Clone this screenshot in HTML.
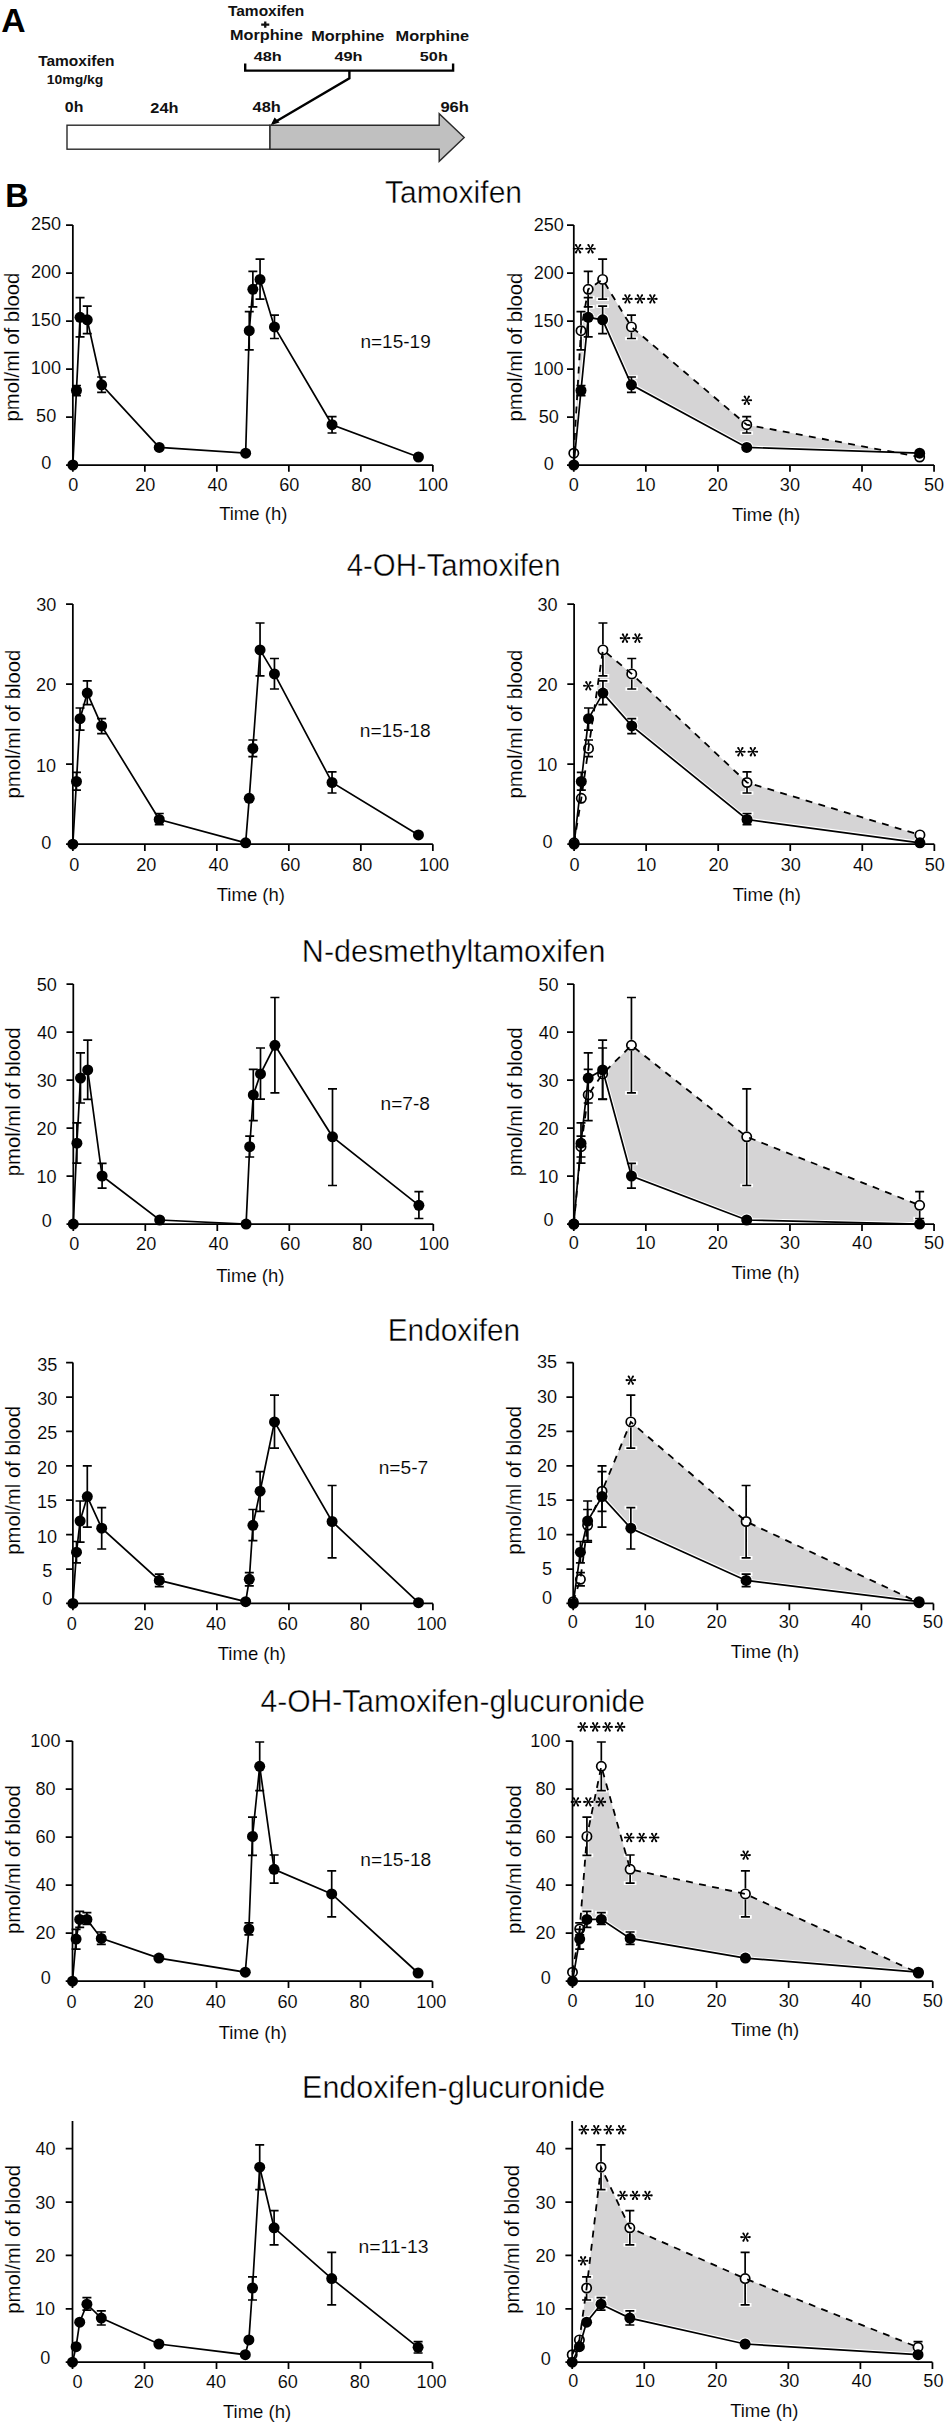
<!DOCTYPE html>
<html><head><meta charset="utf-8"><style>
html,body{margin:0;padding:0;background:#fff;}
body{width:950px;height:2426px;overflow:hidden;}
svg{display:block;font-family:"Liberation Sans", sans-serif;}
</style></head><body>
<svg width="950" height="2426" viewBox="0 0 950 2426" font-family='"Liberation Sans", sans-serif'>
<rect width="950" height="2426" fill="#fff"/>
<text transform="translate(1.26,31.8) scale(1.0541,1.0598)" font-size="32" font-weight="bold" fill="#000">A</text>
<text transform="translate(5.3,206.8) scale(1.0092,1.0598)" font-size="32" font-weight="bold" fill="#000">B</text>
<text transform="translate(38.14,65.7) scale(1.0340,1.0115)" font-size="15" font-weight="bold" fill="#111">Tamoxifen</text>
<text transform="translate(46.76,84.2) scale(0.9296,0.8828)" font-size="15" font-weight="bold" fill="#111">10mg/kg</text>
<text transform="translate(64.87,111.8) scale(1.0579,0.9931)" font-size="15" font-weight="bold" fill="#111">0h</text>
<text transform="translate(150.33,112.8) scale(1.0913,1.0115)" font-size="15" font-weight="bold" fill="#111">24h</text>
<text transform="translate(252.55,111.6) scale(1.0942,0.9471)" font-size="15" font-weight="bold" fill="#111">48h</text>
<text transform="translate(440.42,111.6) scale(1.1036,1.0207)" font-size="15" font-weight="bold" fill="#111">96h</text>
<text transform="translate(227.95,15.7) scale(1.0326,1.0207)" font-size="15" font-weight="bold" fill="#111">Tamoxifen</text>
<text transform="translate(230.05,40.4) scale(1.0818,1.0207)" font-size="15" font-weight="bold" fill="#111">Morphine</text>
<text transform="translate(311.24,40.5) scale(1.0848,1.0207)" font-size="15" font-weight="bold" fill="#111">Morphine</text>
<text transform="translate(395.54,40.5) scale(1.0909,1.0207)" font-size="15" font-weight="bold" fill="#111">Morphine</text>
<text transform="translate(253.66,60.7) scale(1.0861,0.9103)" font-size="15" font-weight="bold" fill="#111">48h</text>
<text transform="translate(334.45,60.7) scale(1.0902,0.9103)" font-size="15" font-weight="bold" fill="#111">49h</text>
<text transform="translate(419.81,60.7) scale(1.0838,0.9103)" font-size="15" font-weight="bold" fill="#111">50h</text>
<path d="M261.2 24.6H269.3M265.25 21.4V27.8" stroke="#111" stroke-width="2.3"/>
<rect x="67" y="125.2" width="203" height="24" fill="#fff" stroke="#2a2a2a" stroke-width="1.4"/>
<path d="M270 125.2H439.2V113.7L464.2 137.4L439.2 161.3V149.2H270Z" fill="#c0c0c0" stroke="#2a2a2a" stroke-width="1.4"/>
<path d="M245.2 63.5V70.6H453.1V63.5M349.4 70.6V78.4L272.5 123.5" stroke="#000" stroke-width="2.4" fill="none"/>
<path d="M270.8 125L274.6 117.6L279.6 122.6Z" fill="#000"/>
<text transform="translate(385,202.8) scale(1.0376,1.0545)" font-size="29" font-weight="normal" fill="#000" stroke="#fff" stroke-width="0.4">Tamoxifen</text>
<text transform="translate(360.46,347.9) scale(1.0569,1.0306)" font-size="18" font-weight="normal" fill="#000" stroke="#fff" stroke-width="0.12">n=15-19</text>
<path d="M76.45 385.5V390.5M71.95 385.5H80.95M76.45 395.6V390.5M71.95 395.6H80.95M80.05 297.7V317.3M75.55 297.7H84.55M80.05 336.8V317.3M75.55 336.8H84.55M87.25 306.1V319.8M82.75 306.1H91.75M87.25 333.7V319.8M82.75 333.7H91.75M101.65 377V384.8M97.15 377H106.15M101.65 392.4V384.8M97.15 392.4H106.15M249.25 311.7V330.7M244.75 311.7H253.75M249.25 349.9V330.7M244.75 349.9H253.75M252.85 271.3V289.3M248.35 271.3H257.35M252.85 306.9V289.3M248.35 306.9H257.35M260.05 259.2V279.4M255.55 259.2H264.55M260.05 299.1V279.4M255.55 299.1H264.55M274.45 315.2V326.9M269.95 315.2H278.95M274.45 338.5V326.9M269.95 338.5H278.95M332.05 416.6V424.7M327.55 416.6H336.55M332.05 433V424.7M327.55 433H336.55" stroke="#000" stroke-width="1.7" fill="none"/>
<path d="M72.85 465L76.45 390.5L80.05 317.3L87.25 319.8L101.65 384.8L159.25 447.4L245.65 453.2L249.25 330.7L252.85 289.3L260.05 279.4L274.45 326.9L332.05 424.7L418.45 457" stroke="#000" stroke-width="1.7" fill="none"/>
<circle cx="72.85" cy="465" r="5.5"/>
<circle cx="76.45" cy="390.5" r="5.5"/>
<circle cx="80.05" cy="317.3" r="5.5"/>
<circle cx="87.25" cy="319.8" r="5.5"/>
<circle cx="101.65" cy="384.8" r="5.5"/>
<circle cx="159.25" cy="447.4" r="5.5"/>
<circle cx="245.65" cy="453.2" r="5.5"/>
<circle cx="249.25" cy="330.7" r="5.5"/>
<circle cx="252.85" cy="289.3" r="5.5"/>
<circle cx="260.05" cy="279.4" r="5.5"/>
<circle cx="274.45" cy="326.9" r="5.5"/>
<circle cx="332.05" cy="424.7" r="5.5"/>
<circle cx="418.45" cy="457" r="5.5"/>
<path d="M72.85 225V465H432.85M66.05 465H72.85M66.05 417H72.85M66.05 369H72.85M66.05 321H72.85M66.05 273H72.85M66.05 225H72.85M72.85 465V471.8M144.85 465V471.8M216.85 465V471.8M288.85 465V471.8M360.85 465V471.8M432.85 465V471.8" stroke="#000" stroke-width="1.75" fill="none"/>
<text transform="translate(41.13,469.31) scale(1,1.028)" font-size="18.1" stroke="#fff" stroke-width="0.12">0</text>
<text transform="translate(36.11,422.31) scale(1,1.028)" font-size="18.1" stroke="#fff" stroke-width="0.12">50</text>
<text transform="translate(30.77,374.31) scale(1,1.028)" font-size="18.1" stroke="#fff" stroke-width="0.12">100</text>
<text transform="translate(30.77,326.31) scale(1,1.028)" font-size="18.1" stroke="#fff" stroke-width="0.12">150</text>
<text transform="translate(31,278.31) scale(1,1.028)" font-size="18.1" stroke="#fff" stroke-width="0.12">200</text>
<text transform="translate(31,230.31) scale(1,1.028)" font-size="18.1" stroke="#fff" stroke-width="0.12">250</text>
<text transform="translate(68.28,490.96) scale(1,1.028)" font-size="18.1" stroke="#fff" stroke-width="0.12">0</text>
<text transform="translate(135.17,490.96) scale(1,1.028)" font-size="18.1" stroke="#fff" stroke-width="0.12">20</text>
<text transform="translate(207.44,490.96) scale(1,1.028)" font-size="18.1" stroke="#fff" stroke-width="0.12">40</text>
<text transform="translate(279.17,490.96) scale(1,1.028)" font-size="18.1" stroke="#fff" stroke-width="0.12">60</text>
<text transform="translate(351.21,490.96) scale(1,1.028)" font-size="18.1" stroke="#fff" stroke-width="0.12">80</text>
<text transform="translate(417.92,490.96) scale(1,1.028)" font-size="18.1" stroke="#fff" stroke-width="0.12">100</text>
<text transform="translate(219.13,520.3) scale(0.9264,0.9493)" font-size="20" font-weight="normal" fill="#000" stroke="#fff" stroke-width="0.12">Time (h)</text>
<text transform="translate(18.9,420.1) rotate(-90) translate(-1.32,0) scale(1.0146,0.9724)" font-size="20" stroke="#fff" stroke-width="0.12">pmol/ml of blood</text>
<path d="M573.8 453.2L581 330.7L588.21 289.3L602.62 279.4L631.44 326.9L746.72 424.7L919.64 457L919.64 465L573.8 465Z" fill="#d5d4d5"/>
<path d="M573.8 465L581 390.5L588.21 317.3L602.62 319.8L631.44 384.8L746.72 447.4L919.64 453.2L919.64 465L573.8 465Z" fill="#fff" stroke="#fff" stroke-width="1.5"/>
<path d="M573.8 465L581 390.5L588.21 317.3L602.62 319.8L631.44 384.8L746.72 447.4L919.64 453.2" stroke="#fff" stroke-width="3.9000000000000004" fill="none" stroke-linejoin="round"/>
<path d="M581 311.7V325.2M576.5 311.7H585.5M581 349.9V336.2M576.5 349.9H585.5M588.21 271.3V283.8M583.71 271.3H592.71M588.21 306.9V294.8M583.71 306.9H592.71M602.62 259.2V273.9M598.12 259.2H607.12M602.62 299.1V284.9M598.12 299.1H607.12M631.44 315.2V321.4M626.94 315.2H635.94M631.44 338.5V332.4M626.94 338.5H635.94M746.72 416.6V419.2M742.22 416.6H751.22M746.72 433V430.2M742.22 433H751.22M581 385.5V390.5M576.5 385.5H585.5M581 395.6V390.5M576.5 395.6H585.5M588.21 297.7V317.3M583.71 297.7H592.71M588.21 336.8V317.3M583.71 336.8H592.71M602.62 306.1V319.8M598.12 306.1H607.12M602.62 333.7V319.8M598.12 333.7H607.12M631.44 377V384.8M626.94 377H635.94M631.44 392.4V384.8M626.94 392.4H635.94" stroke="#fff" stroke-width="3.7" fill="none" stroke-linecap="square"/>
<circle cx="573.8" cy="465" r="6.5" fill="#fff"/>
<circle cx="581" cy="390.5" r="6.5" fill="#fff"/>
<circle cx="588.21" cy="317.3" r="6.5" fill="#fff"/>
<circle cx="602.62" cy="319.8" r="6.5" fill="#fff"/>
<circle cx="631.44" cy="384.8" r="6.5" fill="#fff"/>
<circle cx="746.72" cy="447.4" r="6.5" fill="#fff"/>
<circle cx="919.64" cy="453.2" r="6.5" fill="#fff"/>
<path d="M581 311.7V325.2M576.5 311.7H585.5M581 349.9V336.2M576.5 349.9H585.5M588.21 271.3V283.8M583.71 271.3H592.71M588.21 306.9V294.8M583.71 306.9H592.71M602.62 259.2V273.9M598.12 259.2H607.12M602.62 299.1V284.9M598.12 299.1H607.12M631.44 315.2V321.4M626.94 315.2H635.94M631.44 338.5V332.4M626.94 338.5H635.94M746.72 416.6V419.2M742.22 416.6H751.22M746.72 433V430.2M742.22 433H751.22" stroke="#000" stroke-width="1.7" fill="none"/>
<circle cx="573.8" cy="453.2" r="4.65" fill="#fff" stroke="#000" stroke-width="1.7"/>
<circle cx="581" cy="330.7" r="4.65" fill="#fff" stroke="#000" stroke-width="1.7"/>
<circle cx="588.21" cy="289.3" r="4.65" fill="#fff" stroke="#000" stroke-width="1.7"/>
<circle cx="602.62" cy="279.4" r="4.65" fill="#fff" stroke="#000" stroke-width="1.7"/>
<circle cx="631.44" cy="326.9" r="4.65" fill="#fff" stroke="#000" stroke-width="1.7"/>
<circle cx="746.72" cy="424.7" r="4.65" fill="#fff" stroke="#000" stroke-width="1.7"/>
<circle cx="919.64" cy="457" r="4.65" fill="#fff" stroke="#000" stroke-width="1.7"/>
<path d="M581 385.5V390.5M576.5 385.5H585.5M581 395.6V390.5M576.5 395.6H585.5M588.21 297.7V317.3M583.71 297.7H592.71M588.21 336.8V317.3M583.71 336.8H592.71M602.62 306.1V319.8M598.12 306.1H607.12M602.62 333.7V319.8M598.12 333.7H607.12M631.44 377V384.8M626.94 377H635.94M631.44 392.4V384.8M626.94 392.4H635.94" stroke="#000" stroke-width="1.7" fill="none"/>
<circle cx="573.8" cy="465" r="5.5"/>
<circle cx="581" cy="390.5" r="5.5"/>
<circle cx="588.21" cy="317.3" r="5.5"/>
<circle cx="602.62" cy="319.8" r="5.5"/>
<circle cx="631.44" cy="384.8" r="5.5"/>
<circle cx="746.72" cy="447.4" r="5.5"/>
<circle cx="919.64" cy="453.2" r="5.5"/>
<path d="M573.8 453.2L581 330.7L588.21 289.3L602.62 279.4L631.44 326.9L746.72 424.7L919.64 457" stroke="#000" stroke-width="1.8" fill="none" stroke-dasharray="6.9 6.4"/>
<path d="M573.8 465L581 390.5L588.21 317.3L602.62 319.8L631.44 384.8L746.72 447.4L919.64 453.2" stroke="#000" stroke-width="1.7" fill="none"/>
<path d="M578.57 249.12L582.32 249.76A1.06 1.06 0 0 0 582.32 247.64L578.57 248.28ZM577.96 249.34L579.28 252.91A1.06 1.06 0 0 0 581.12 251.85L578.69 248.92ZM577.46 248.92L575.03 251.85A1.06 1.06 0 0 0 576.87 252.91L578.19 249.34ZM577.57 248.28L573.82 247.64A1.06 1.06 0 0 0 573.82 249.76L577.57 249.12ZM578.19 248.06L576.87 244.49A1.06 1.06 0 0 0 575.03 245.55L577.46 248.48ZM578.69 248.48L581.12 245.55A1.06 1.06 0 0 0 579.28 244.49L577.96 248.06ZM578.92 248.7A0.85 0.85 0 1 0 577.22 248.7A0.85 0.85 0 1 0 578.92 248.7ZM591.02 249.12L594.77 249.76A1.06 1.06 0 0 0 594.77 247.64L591.02 248.28ZM590.41 249.34L591.73 252.91A1.06 1.06 0 0 0 593.57 251.85L591.14 248.92ZM589.91 248.92L587.48 251.85A1.06 1.06 0 0 0 589.32 252.91L590.64 249.34ZM590.02 248.28L586.27 247.64A1.06 1.06 0 0 0 586.27 249.76L590.02 249.12ZM590.64 248.06L589.32 244.49A1.06 1.06 0 0 0 587.48 245.55L589.91 248.48ZM591.14 248.48L593.57 245.55A1.06 1.06 0 0 0 591.73 244.49L590.41 248.06ZM591.38 248.7A0.85 0.85 0 1 0 589.67 248.7A0.85 0.85 0 1 0 591.38 248.7ZM627.95 299.32L631.7 299.96A1.06 1.06 0 0 0 631.7 297.84L627.95 298.48ZM627.34 299.54L628.66 303.11A1.06 1.06 0 0 0 630.49 302.05L628.06 299.12ZM626.84 299.12L624.41 302.05A1.06 1.06 0 0 0 626.24 303.11L627.56 299.54ZM626.95 298.48L623.2 297.84A1.06 1.06 0 0 0 623.2 299.96L626.95 299.32ZM627.56 298.26L626.24 294.69A1.06 1.06 0 0 0 624.41 295.75L626.84 298.68ZM628.06 298.68L630.49 295.75A1.06 1.06 0 0 0 628.66 294.69L627.34 298.26ZM628.3 298.9A0.85 0.85 0 1 0 626.6 298.9A0.85 0.85 0 1 0 628.3 298.9ZM640.4 299.32L644.15 299.96A1.06 1.06 0 0 0 644.15 297.84L640.4 298.48ZM639.79 299.54L641.11 303.11A1.06 1.06 0 0 0 642.94 302.05L640.51 299.12ZM639.29 299.12L636.86 302.05A1.06 1.06 0 0 0 638.69 303.11L640.01 299.54ZM639.4 298.48L635.65 297.84A1.06 1.06 0 0 0 635.65 299.96L639.4 299.32ZM640.01 298.26L638.69 294.69A1.06 1.06 0 0 0 636.86 295.75L639.29 298.68ZM640.51 298.68L642.94 295.75A1.06 1.06 0 0 0 641.11 294.69L639.79 298.26ZM640.75 298.9A0.85 0.85 0 1 0 639.05 298.9A0.85 0.85 0 1 0 640.75 298.9ZM652.85 299.32L656.6 299.96A1.06 1.06 0 0 0 656.6 297.84L652.85 298.48ZM652.24 299.54L653.56 303.11A1.06 1.06 0 0 0 655.39 302.05L652.96 299.12ZM651.74 299.12L649.31 302.05A1.06 1.06 0 0 0 651.14 303.11L652.46 299.54ZM651.85 298.48L648.1 297.84A1.06 1.06 0 0 0 648.1 299.96L651.85 299.32ZM652.46 298.26L651.14 294.69A1.06 1.06 0 0 0 649.31 295.75L651.74 298.68ZM652.96 298.68L655.39 295.75A1.06 1.06 0 0 0 653.56 294.69L652.24 298.26ZM653.2 298.9A0.85 0.85 0 1 0 651.5 298.9A0.85 0.85 0 1 0 653.2 298.9ZM747.3 400.62L751.05 401.26A1.06 1.06 0 0 0 751.05 399.14L747.3 399.78ZM746.69 400.84L748.01 404.41A1.06 1.06 0 0 0 749.84 403.35L747.41 400.42ZM746.19 400.42L743.76 403.35A1.06 1.06 0 0 0 745.59 404.41L746.91 400.84ZM746.3 399.78L742.55 399.14A1.06 1.06 0 0 0 742.55 401.26L746.3 400.62ZM746.91 399.56L745.59 395.99A1.06 1.06 0 0 0 743.76 397.05L746.19 399.98ZM747.41 399.98L749.84 397.05A1.06 1.06 0 0 0 748.01 395.99L746.69 399.56ZM747.65 400.2A0.85 0.85 0 1 0 745.95 400.2A0.85 0.85 0 1 0 747.65 400.2Z" fill="#000"/>
<path d="M573.8 225V465H934.05M567 465H573.8M567 417H573.8M567 369H573.8M567 321H573.8M567 273H573.8M567 225H573.8M573.8 465V471.8M645.85 465V471.8M717.9 465V471.8M789.95 465V471.8M862 465V471.8M934.05 465V471.8" stroke="#000" stroke-width="1.75" fill="none"/>
<text transform="translate(543.83,469.91) scale(1,1.028)" font-size="18.1" stroke="#fff" stroke-width="0.12">0</text>
<text transform="translate(538.81,422.61) scale(1,1.028)" font-size="18.1" stroke="#fff" stroke-width="0.12">50</text>
<text transform="translate(533.47,374.61) scale(1,1.028)" font-size="18.1" stroke="#fff" stroke-width="0.12">100</text>
<text transform="translate(533.47,326.61) scale(1,1.028)" font-size="18.1" stroke="#fff" stroke-width="0.12">150</text>
<text transform="translate(533.7,278.61) scale(1,1.028)" font-size="18.1" stroke="#fff" stroke-width="0.12">200</text>
<text transform="translate(533.7,230.61) scale(1,1.028)" font-size="18.1" stroke="#fff" stroke-width="0.12">250</text>
<text transform="translate(568.73,490.96) scale(1,1.028)" font-size="18.1" stroke="#fff" stroke-width="0.12">0</text>
<text transform="translate(635.44,490.96) scale(1,1.028)" font-size="18.1" stroke="#fff" stroke-width="0.12">10</text>
<text transform="translate(707.72,490.96) scale(1,1.028)" font-size="18.1" stroke="#fff" stroke-width="0.12">20</text>
<text transform="translate(779.86,490.96) scale(1,1.028)" font-size="18.1" stroke="#fff" stroke-width="0.12">30</text>
<text transform="translate(852.09,490.96) scale(1,1.028)" font-size="18.1" stroke="#fff" stroke-width="0.12">40</text>
<text transform="translate(923.96,490.96) scale(1,1.028)" font-size="18.1" stroke="#fff" stroke-width="0.12">50</text>
<text transform="translate(732.03,520.5) scale(0.9264,0.9493)" font-size="20" font-weight="normal" fill="#000" stroke="#fff" stroke-width="0.12">Time (h)</text>
<text transform="translate(521.8,420.1) rotate(-90) translate(-1.32,0) scale(1.0146,0.9724)" font-size="20" stroke="#fff" stroke-width="0.12">pmol/ml of blood</text>
<text transform="translate(346.71,576.2) scale(1.0132,1.0545)" font-size="29" font-weight="normal" fill="#000" stroke="#fff" stroke-width="0.4">4-OH-Tamoxifen</text>
<text transform="translate(359.75,736.6) scale(1.0647,1.0306)" font-size="18" font-weight="normal" fill="#000" stroke="#fff" stroke-width="0.12">n=15-18</text>
<path d="M76.45 772.4V781.5M71.95 772.4H80.95M76.45 790.1V781.5M71.95 790.1H80.95M80.05 708V718.7M75.55 708H84.55M80.05 730.1V718.7M75.55 730.1H84.55M87.25 680.8V693.1M82.75 680.8H91.75M87.25 704.6V693.1M82.75 704.6H91.75M101.65 718.7V725.9M97.15 718.7H106.15M101.65 733.6V725.9M97.15 733.6H106.15M159.25 813.5V819.5M154.75 813.5H163.75M159.25 824.6V819.5M154.75 824.6H163.75M252.85 740V748.4M248.35 740H257.35M252.85 756.6V748.4M248.35 756.6H257.35M260.05 623V649.9M255.55 623H264.55M260.05 675.8V649.9M255.55 675.8H264.55M274.45 658.5V673.9M269.95 658.5H278.95M274.45 689V673.9M269.95 689H278.95M332.05 771.8V782.5M327.55 771.8H336.55M332.05 793V782.5M327.55 793H336.55" stroke="#000" stroke-width="1.7" fill="none"/>
<path d="M72.85 844.2L76.45 781.5L80.05 718.7L87.25 693.1L101.65 725.9L159.25 819.5L245.65 842.8L249.25 798.3L252.85 748.4L260.05 649.9L274.45 673.9L332.05 782.5L418.45 834.9" stroke="#000" stroke-width="1.7" fill="none"/>
<circle cx="72.85" cy="844.2" r="5.5"/>
<circle cx="76.45" cy="781.5" r="5.5"/>
<circle cx="80.05" cy="718.7" r="5.5"/>
<circle cx="87.25" cy="693.1" r="5.5"/>
<circle cx="101.65" cy="725.9" r="5.5"/>
<circle cx="159.25" cy="819.5" r="5.5"/>
<circle cx="245.65" cy="842.8" r="5.5"/>
<circle cx="249.25" cy="798.3" r="5.5"/>
<circle cx="252.85" cy="748.4" r="5.5"/>
<circle cx="260.05" cy="649.9" r="5.5"/>
<circle cx="274.45" cy="673.9" r="5.5"/>
<circle cx="332.05" cy="782.5" r="5.5"/>
<circle cx="418.45" cy="834.9" r="5.5"/>
<path d="M72.85 604V844.2H432.85M66.05 844.2H72.85M66.05 764.13H72.85M66.05 684.07H72.85M66.05 604H72.85M72.85 844.2V851M144.85 844.2V851M216.85 844.2V851M288.85 844.2V851M360.85 844.2V851M432.85 844.2V851" stroke="#000" stroke-width="1.75" fill="none"/>
<text transform="translate(41.23,848.51) scale(1,1.028)" font-size="18.1" stroke="#fff" stroke-width="0.12">0</text>
<text transform="translate(35.89,771.55) scale(1,1.028)" font-size="18.1" stroke="#fff" stroke-width="0.12">10</text>
<text transform="translate(36.12,691.48) scale(1,1.028)" font-size="18.1" stroke="#fff" stroke-width="0.12">20</text>
<text transform="translate(36.21,611.41) scale(1,1.028)" font-size="18.1" stroke="#fff" stroke-width="0.12">30</text>
<text transform="translate(69.28,871.26) scale(1,1.028)" font-size="18.1" stroke="#fff" stroke-width="0.12">0</text>
<text transform="translate(136.17,871.26) scale(1,1.028)" font-size="18.1" stroke="#fff" stroke-width="0.12">20</text>
<text transform="translate(208.44,871.26) scale(1,1.028)" font-size="18.1" stroke="#fff" stroke-width="0.12">40</text>
<text transform="translate(280.17,871.26) scale(1,1.028)" font-size="18.1" stroke="#fff" stroke-width="0.12">60</text>
<text transform="translate(352.21,871.26) scale(1,1.028)" font-size="18.1" stroke="#fff" stroke-width="0.12">80</text>
<text transform="translate(418.92,871.26) scale(1,1.028)" font-size="18.1" stroke="#fff" stroke-width="0.12">100</text>
<text transform="translate(216.73,900.8) scale(0.9264,0.9493)" font-size="20" font-weight="normal" fill="#000" stroke="#fff" stroke-width="0.12">Time (h)</text>
<text transform="translate(19.5,797.2) rotate(-90) translate(-1.32,0) scale(1.0146,0.9724)" font-size="20" stroke="#fff" stroke-width="0.12">pmol/ml of blood</text>
<path d="M574.1 842.8L581.31 798.3L588.51 748.4L602.92 649.9L631.74 673.9L747.02 782.5L919.94 834.9L919.94 844.2L574.1 844.2Z" fill="#d5d4d5"/>
<path d="M574.1 844.2L581.31 781.5L588.51 718.7L602.92 693.1L631.74 725.9L747.02 819.5L919.94 842.8L919.94 844.2L574.1 844.2Z" fill="#fff" stroke="#fff" stroke-width="1.5"/>
<path d="M574.1 844.2L581.31 781.5L588.51 718.7L602.92 693.1L631.74 725.9L747.02 819.5L919.94 842.8" stroke="#fff" stroke-width="3.9000000000000004" fill="none" stroke-linejoin="round"/>
<path d="M588.51 740V742.9M584.01 740H593.01M588.51 756.6V753.9M584.01 756.6H593.01M602.92 623V644.4M598.42 623H607.42M602.92 675.8V655.4M598.42 675.8H607.42M631.74 658.5V668.4M627.24 658.5H636.24M631.74 689V679.4M627.24 689H636.24M747.02 771.8V777M742.52 771.8H751.52M747.02 793V788M742.52 793H751.52M581.31 772.4V781.5M576.81 772.4H585.81M581.31 790.1V781.5M576.81 790.1H585.81M588.51 708V718.7M584.01 708H593.01M588.51 730.1V718.7M584.01 730.1H593.01M602.92 680.8V693.1M598.42 680.8H607.42M602.92 704.6V693.1M598.42 704.6H607.42M631.74 718.7V725.9M627.24 718.7H636.24M631.74 733.6V725.9M627.24 733.6H636.24M747.02 813.5V819.5M742.52 813.5H751.52M747.02 824.6V819.5M742.52 824.6H751.52" stroke="#fff" stroke-width="3.7" fill="none" stroke-linecap="square"/>
<circle cx="574.1" cy="844.2" r="6.5" fill="#fff"/>
<circle cx="581.31" cy="781.5" r="6.5" fill="#fff"/>
<circle cx="588.51" cy="718.7" r="6.5" fill="#fff"/>
<circle cx="602.92" cy="693.1" r="6.5" fill="#fff"/>
<circle cx="631.74" cy="725.9" r="6.5" fill="#fff"/>
<circle cx="747.02" cy="819.5" r="6.5" fill="#fff"/>
<circle cx="919.94" cy="842.8" r="6.5" fill="#fff"/>
<path d="M588.51 740V742.9M584.01 740H593.01M588.51 756.6V753.9M584.01 756.6H593.01M602.92 623V644.4M598.42 623H607.42M602.92 675.8V655.4M598.42 675.8H607.42M631.74 658.5V668.4M627.24 658.5H636.24M631.74 689V679.4M627.24 689H636.24M747.02 771.8V777M742.52 771.8H751.52M747.02 793V788M742.52 793H751.52" stroke="#000" stroke-width="1.7" fill="none"/>
<circle cx="574.1" cy="842.8" r="4.65" fill="#fff" stroke="#000" stroke-width="1.7"/>
<circle cx="581.31" cy="798.3" r="4.65" fill="#fff" stroke="#000" stroke-width="1.7"/>
<circle cx="588.51" cy="748.4" r="4.65" fill="#fff" stroke="#000" stroke-width="1.7"/>
<circle cx="602.92" cy="649.9" r="4.65" fill="#fff" stroke="#000" stroke-width="1.7"/>
<circle cx="631.74" cy="673.9" r="4.65" fill="#fff" stroke="#000" stroke-width="1.7"/>
<circle cx="747.02" cy="782.5" r="4.65" fill="#fff" stroke="#000" stroke-width="1.7"/>
<circle cx="919.94" cy="834.9" r="4.65" fill="#fff" stroke="#000" stroke-width="1.7"/>
<path d="M581.31 772.4V781.5M576.81 772.4H585.81M581.31 790.1V781.5M576.81 790.1H585.81M588.51 708V718.7M584.01 708H593.01M588.51 730.1V718.7M584.01 730.1H593.01M602.92 680.8V693.1M598.42 680.8H607.42M602.92 704.6V693.1M598.42 704.6H607.42M631.74 718.7V725.9M627.24 718.7H636.24M631.74 733.6V725.9M627.24 733.6H636.24M747.02 813.5V819.5M742.52 813.5H751.52M747.02 824.6V819.5M742.52 824.6H751.52" stroke="#000" stroke-width="1.7" fill="none"/>
<circle cx="574.1" cy="844.2" r="5.5"/>
<circle cx="581.31" cy="781.5" r="5.5"/>
<circle cx="588.51" cy="718.7" r="5.5"/>
<circle cx="602.92" cy="693.1" r="5.5"/>
<circle cx="631.74" cy="725.9" r="5.5"/>
<circle cx="747.02" cy="819.5" r="5.5"/>
<circle cx="919.94" cy="842.8" r="5.5"/>
<path d="M574.1 842.8L581.31 798.3L588.51 748.4L602.92 649.9L631.74 673.9L747.02 782.5L919.94 834.9" stroke="#000" stroke-width="1.8" fill="none" stroke-dasharray="6.9 6.4"/>
<path d="M574.1 844.2L581.31 781.5L588.51 718.7L602.92 693.1L631.74 725.9L747.02 819.5L919.94 842.8" stroke="#000" stroke-width="1.7" fill="none"/>
<path d="M588.8 686.22L592.55 686.86A1.06 1.06 0 0 0 592.55 684.74L588.8 685.38ZM588.19 686.44L589.51 690.01A1.06 1.06 0 0 0 591.34 688.95L588.91 686.02ZM587.69 686.02L585.26 688.95A1.06 1.06 0 0 0 587.09 690.01L588.41 686.44ZM587.8 685.38L584.05 684.74A1.06 1.06 0 0 0 584.05 686.86L587.8 686.22ZM588.41 685.16L587.09 681.59A1.06 1.06 0 0 0 585.26 682.65L587.69 685.58ZM588.91 685.58L591.34 682.65A1.06 1.06 0 0 0 589.51 681.59L588.19 685.16ZM589.15 685.8A0.85 0.85 0 1 0 587.45 685.8A0.85 0.85 0 1 0 589.15 685.8ZM625.48 638.52L629.23 639.16A1.06 1.06 0 0 0 629.23 637.04L625.48 637.68ZM624.86 638.74L626.18 642.31A1.06 1.06 0 0 0 628.02 641.25L625.59 638.32ZM624.36 638.32L621.93 641.25A1.06 1.06 0 0 0 623.77 642.31L625.09 638.74ZM624.48 637.68L620.73 637.04A1.06 1.06 0 0 0 620.73 639.16L624.48 638.52ZM625.09 637.46L623.77 633.89A1.06 1.06 0 0 0 621.93 634.95L624.36 637.88ZM625.59 637.88L628.02 634.95A1.06 1.06 0 0 0 626.18 633.89L624.86 637.46ZM625.83 638.1A0.85 0.85 0 1 0 624.12 638.1A0.85 0.85 0 1 0 625.83 638.1ZM637.93 638.52L641.68 639.16A1.06 1.06 0 0 0 641.68 637.04L637.93 637.68ZM637.31 638.74L638.63 642.31A1.06 1.06 0 0 0 640.47 641.25L638.04 638.32ZM636.81 638.32L634.38 641.25A1.06 1.06 0 0 0 636.22 642.31L637.54 638.74ZM636.93 637.68L633.18 637.04A1.06 1.06 0 0 0 633.18 639.16L636.93 638.52ZM637.54 637.46L636.22 633.89A1.06 1.06 0 0 0 634.38 634.95L636.81 637.88ZM638.04 637.88L640.47 634.95A1.06 1.06 0 0 0 638.63 633.89L637.31 637.46ZM638.28 638.1A0.85 0.85 0 1 0 636.58 638.1A0.85 0.85 0 1 0 638.28 638.1ZM740.88 752.12L744.62 752.76A1.06 1.06 0 0 0 744.62 750.64L740.88 751.28ZM740.26 752.34L741.58 755.91A1.06 1.06 0 0 0 743.42 754.85L740.99 751.92ZM739.76 751.92L737.33 754.85A1.06 1.06 0 0 0 739.17 755.91L740.49 752.34ZM739.88 751.28L736.12 750.64A1.06 1.06 0 0 0 736.12 752.76L739.88 752.12ZM740.49 751.06L739.17 747.49A1.06 1.06 0 0 0 737.33 748.55L739.76 751.48ZM740.99 751.48L743.42 748.55A1.06 1.06 0 0 0 741.58 747.49L740.26 751.06ZM741.23 751.7A0.85 0.85 0 1 0 739.52 751.7A0.85 0.85 0 1 0 741.23 751.7ZM753.33 752.12L757.08 752.76A1.06 1.06 0 0 0 757.08 750.64L753.33 751.28ZM752.71 752.34L754.03 755.91A1.06 1.06 0 0 0 755.87 754.85L753.44 751.92ZM752.21 751.92L749.78 754.85A1.06 1.06 0 0 0 751.62 755.91L752.94 752.34ZM752.33 751.28L748.58 750.64A1.06 1.06 0 0 0 748.58 752.76L752.33 752.12ZM752.94 751.06L751.62 747.49A1.06 1.06 0 0 0 749.78 748.55L752.21 751.48ZM753.44 751.48L755.87 748.55A1.06 1.06 0 0 0 754.03 747.49L752.71 751.06ZM753.68 751.7A0.85 0.85 0 1 0 751.98 751.7A0.85 0.85 0 1 0 753.68 751.7Z" fill="#000"/>
<path d="M574.1 604V844.2H934.35M567.3 844.2H574.1M567.3 764.13H574.1M567.3 684.07H574.1M567.3 604H574.1M574.1 844.2V851M646.15 844.2V851M718.2 844.2V851M790.25 844.2V851M862.3 844.2V851M934.35 844.2V851" stroke="#000" stroke-width="1.75" fill="none"/>
<text transform="translate(542.53,848.41) scale(1,1.028)" font-size="18.1" stroke="#fff" stroke-width="0.12">0</text>
<text transform="translate(537.19,771.15) scale(1,1.028)" font-size="18.1" stroke="#fff" stroke-width="0.12">10</text>
<text transform="translate(537.42,691.08) scale(1,1.028)" font-size="18.1" stroke="#fff" stroke-width="0.12">20</text>
<text transform="translate(537.51,611.01) scale(1,1.028)" font-size="18.1" stroke="#fff" stroke-width="0.12">30</text>
<text transform="translate(569.53,871.16) scale(1,1.028)" font-size="18.1" stroke="#fff" stroke-width="0.12">0</text>
<text transform="translate(636.24,871.16) scale(1,1.028)" font-size="18.1" stroke="#fff" stroke-width="0.12">10</text>
<text transform="translate(708.52,871.16) scale(1,1.028)" font-size="18.1" stroke="#fff" stroke-width="0.12">20</text>
<text transform="translate(780.66,871.16) scale(1,1.028)" font-size="18.1" stroke="#fff" stroke-width="0.12">30</text>
<text transform="translate(852.89,871.16) scale(1,1.028)" font-size="18.1" stroke="#fff" stroke-width="0.12">40</text>
<text transform="translate(924.76,871.16) scale(1,1.028)" font-size="18.1" stroke="#fff" stroke-width="0.12">50</text>
<text transform="translate(732.73,900.7) scale(0.9264,0.9493)" font-size="20" font-weight="normal" fill="#000" stroke="#fff" stroke-width="0.12">Time (h)</text>
<text transform="translate(521.8,797.2) rotate(-90) translate(-1.32,0) scale(1.0146,0.9724)" font-size="20" stroke="#fff" stroke-width="0.12">pmol/ml of blood</text>
<text transform="translate(301.86,961.6) scale(1.0531,1.0545)" font-size="29" font-weight="normal" fill="#000" stroke="#fff" stroke-width="0.4">N-desmethyltamoxifen</text>
<text transform="translate(380.56,1109.9) scale(1.0618,1.0306)" font-size="18" font-weight="normal" fill="#000" stroke="#fff" stroke-width="0.12">n=7-8</text>
<path d="M76.9 1122.9V1143.2M72.4 1122.9H81.4M76.9 1163.1V1143.2M72.4 1163.1H81.4M80.5 1052.8V1078.1M76 1052.8H85M80.5 1103V1078.1M76 1103H85M87.7 1040.2V1069.9M83.2 1040.2H92.2M87.7 1099.3V1069.9M83.2 1099.3H92.2M102.1 1163.4V1176M97.6 1163.4H106.6M102.1 1188.2V1176M97.6 1188.2H106.6M249.7 1136.2V1146.7M245.2 1136.2H254.2M249.7 1157V1146.7M245.2 1157H254.2M253.3 1069.4V1094.9M248.8 1069.4H257.8M253.3 1120.7V1094.9M248.8 1120.7H257.8M260.5 1048V1073.9M256 1048H265M260.5 1099.2V1073.9M256 1099.2H265M274.9 997.5V1045.3M270.4 997.5H279.4M274.9 1092.9V1045.3M270.4 1092.9H279.4M332.5 1088.8V1136.8M328 1088.8H337M332.5 1185.5V1136.8M328 1185.5H337M418.9 1191.6V1205.3M414.4 1191.6H423.4M418.9 1218.5V1205.3M414.4 1218.5H423.4" stroke="#000" stroke-width="1.7" fill="none"/>
<path d="M73.3 1224.1L76.9 1143.2L80.5 1078.1L87.7 1069.9L102.1 1176L159.7 1220L246.1 1224.1L249.7 1146.7L253.3 1094.9L260.5 1073.9L274.9 1045.3L332.5 1136.8L418.9 1205.3" stroke="#000" stroke-width="1.7" fill="none"/>
<circle cx="73.3" cy="1224.1" r="5.5"/>
<circle cx="76.9" cy="1143.2" r="5.5"/>
<circle cx="80.5" cy="1078.1" r="5.5"/>
<circle cx="87.7" cy="1069.9" r="5.5"/>
<circle cx="102.1" cy="1176" r="5.5"/>
<circle cx="159.7" cy="1220" r="5.5"/>
<circle cx="246.1" cy="1224.1" r="5.5"/>
<circle cx="249.7" cy="1146.7" r="5.5"/>
<circle cx="253.3" cy="1094.9" r="5.5"/>
<circle cx="260.5" cy="1073.9" r="5.5"/>
<circle cx="274.9" cy="1045.3" r="5.5"/>
<circle cx="332.5" cy="1136.8" r="5.5"/>
<circle cx="418.9" cy="1205.3" r="5.5"/>
<path d="M73.3 984.1V1224.1H433.3M66.5 1224.1H73.3M66.5 1176.1H73.3M66.5 1128.1H73.3M66.5 1080.1H73.3M66.5 1032.1H73.3M66.5 984.1H73.3M73.3 1224.1V1230.9M145.3 1224.1V1230.9M217.3 1224.1V1230.9M289.3 1224.1V1230.9M361.3 1224.1V1230.9M433.3 1224.1V1230.9" stroke="#000" stroke-width="1.75" fill="none"/>
<text transform="translate(41.73,1226.51) scale(1,1.028)" font-size="18.1" stroke="#fff" stroke-width="0.12">0</text>
<text transform="translate(36.39,1182.81) scale(1,1.028)" font-size="18.1" stroke="#fff" stroke-width="0.12">10</text>
<text transform="translate(36.62,1134.81) scale(1,1.028)" font-size="18.1" stroke="#fff" stroke-width="0.12">20</text>
<text transform="translate(36.71,1086.81) scale(1,1.028)" font-size="18.1" stroke="#fff" stroke-width="0.12">30</text>
<text transform="translate(36.89,1038.81) scale(1,1.028)" font-size="18.1" stroke="#fff" stroke-width="0.12">40</text>
<text transform="translate(36.71,990.81) scale(1,1.028)" font-size="18.1" stroke="#fff" stroke-width="0.12">50</text>
<text transform="translate(69.23,1250.26) scale(1,1.028)" font-size="18.1" stroke="#fff" stroke-width="0.12">0</text>
<text transform="translate(136.12,1250.26) scale(1,1.028)" font-size="18.1" stroke="#fff" stroke-width="0.12">20</text>
<text transform="translate(208.39,1250.26) scale(1,1.028)" font-size="18.1" stroke="#fff" stroke-width="0.12">40</text>
<text transform="translate(280.12,1250.26) scale(1,1.028)" font-size="18.1" stroke="#fff" stroke-width="0.12">60</text>
<text transform="translate(352.16,1250.26) scale(1,1.028)" font-size="18.1" stroke="#fff" stroke-width="0.12">80</text>
<text transform="translate(418.87,1250.26) scale(1,1.028)" font-size="18.1" stroke="#fff" stroke-width="0.12">100</text>
<text transform="translate(216.23,1281.6) scale(0.9264,0.9493)" font-size="20" font-weight="normal" fill="#000" stroke="#fff" stroke-width="0.12">Time (h)</text>
<text transform="translate(19.5,1174.9) rotate(-90) translate(-1.32,0) scale(1.0146,0.9724)" font-size="20" stroke="#fff" stroke-width="0.12">pmol/ml of blood</text>
<path d="M573.8 1224.1L581 1146.7L588.21 1094.9L602.62 1073.9L631.44 1045.3L746.72 1136.8L919.64 1205.3L919.64 1224.1L573.8 1224.1Z" fill="#d5d4d5"/>
<path d="M573.8 1224.1L581 1143.2L588.21 1078.1L602.62 1069.9L631.44 1176L746.72 1220L919.64 1224.1L919.64 1224.1L573.8 1224.1Z" fill="#fff" stroke="#fff" stroke-width="1.5"/>
<path d="M573.8 1224.1L581 1143.2L588.21 1078.1L602.62 1069.9L631.44 1176L746.72 1220L919.64 1224.1" stroke="#fff" stroke-width="3.9000000000000004" fill="none" stroke-linejoin="round"/>
<path d="M581 1136.2V1141.2M576.5 1136.2H585.5M581 1157V1152.2M576.5 1157H585.5M588.21 1069.4V1089.4M583.71 1069.4H592.71M588.21 1120.7V1100.4M583.71 1120.7H592.71M602.62 1048V1068.4M598.12 1048H607.12M602.62 1099.2V1079.4M598.12 1099.2H607.12M631.44 997.5V1039.8M626.94 997.5H635.94M631.44 1092.9V1050.8M626.94 1092.9H635.94M746.72 1088.8V1131.3M742.22 1088.8H751.22M746.72 1185.5V1142.3M742.22 1185.5H751.22M919.64 1191.6V1199.8M915.14 1191.6H924.14M919.64 1218.5V1210.8M915.14 1218.5H924.14M581 1122.9V1143.2M576.5 1122.9H585.5M581 1163.1V1143.2M576.5 1163.1H585.5M588.21 1052.8V1078.1M583.71 1052.8H592.71M588.21 1103V1078.1M583.71 1103H592.71M602.62 1040.2V1069.9M598.12 1040.2H607.12M602.62 1099.3V1069.9M598.12 1099.3H607.12M631.44 1163.4V1176M626.94 1163.4H635.94M631.44 1188.2V1176M626.94 1188.2H635.94" stroke="#fff" stroke-width="3.7" fill="none" stroke-linecap="square"/>
<circle cx="573.8" cy="1224.1" r="6.5" fill="#fff"/>
<circle cx="581" cy="1143.2" r="6.5" fill="#fff"/>
<circle cx="588.21" cy="1078.1" r="6.5" fill="#fff"/>
<circle cx="602.62" cy="1069.9" r="6.5" fill="#fff"/>
<circle cx="631.44" cy="1176" r="6.5" fill="#fff"/>
<circle cx="746.72" cy="1220" r="6.5" fill="#fff"/>
<circle cx="919.64" cy="1224.1" r="6.5" fill="#fff"/>
<path d="M581 1136.2V1141.2M576.5 1136.2H585.5M581 1157V1152.2M576.5 1157H585.5M588.21 1069.4V1089.4M583.71 1069.4H592.71M588.21 1120.7V1100.4M583.71 1120.7H592.71M602.62 1048V1068.4M598.12 1048H607.12M602.62 1099.2V1079.4M598.12 1099.2H607.12M631.44 997.5V1039.8M626.94 997.5H635.94M631.44 1092.9V1050.8M626.94 1092.9H635.94M746.72 1088.8V1131.3M742.22 1088.8H751.22M746.72 1185.5V1142.3M742.22 1185.5H751.22M919.64 1191.6V1199.8M915.14 1191.6H924.14M919.64 1218.5V1210.8M915.14 1218.5H924.14" stroke="#000" stroke-width="1.7" fill="none"/>
<circle cx="573.8" cy="1224.1" r="4.65" fill="#fff" stroke="#000" stroke-width="1.7"/>
<circle cx="581" cy="1146.7" r="4.65" fill="#fff" stroke="#000" stroke-width="1.7"/>
<circle cx="588.21" cy="1094.9" r="4.65" fill="#fff" stroke="#000" stroke-width="1.7"/>
<circle cx="602.62" cy="1073.9" r="4.65" fill="#fff" stroke="#000" stroke-width="1.7"/>
<circle cx="631.44" cy="1045.3" r="4.65" fill="#fff" stroke="#000" stroke-width="1.7"/>
<circle cx="746.72" cy="1136.8" r="4.65" fill="#fff" stroke="#000" stroke-width="1.7"/>
<circle cx="919.64" cy="1205.3" r="4.65" fill="#fff" stroke="#000" stroke-width="1.7"/>
<path d="M581 1122.9V1143.2M576.5 1122.9H585.5M581 1163.1V1143.2M576.5 1163.1H585.5M588.21 1052.8V1078.1M583.71 1052.8H592.71M588.21 1103V1078.1M583.71 1103H592.71M602.62 1040.2V1069.9M598.12 1040.2H607.12M602.62 1099.3V1069.9M598.12 1099.3H607.12M631.44 1163.4V1176M626.94 1163.4H635.94M631.44 1188.2V1176M626.94 1188.2H635.94" stroke="#000" stroke-width="1.7" fill="none"/>
<circle cx="573.8" cy="1224.1" r="5.5"/>
<circle cx="581" cy="1143.2" r="5.5"/>
<circle cx="588.21" cy="1078.1" r="5.5"/>
<circle cx="602.62" cy="1069.9" r="5.5"/>
<circle cx="631.44" cy="1176" r="5.5"/>
<circle cx="746.72" cy="1220" r="5.5"/>
<circle cx="919.64" cy="1224.1" r="5.5"/>
<path d="M573.8 1224.1L581 1146.7L588.21 1094.9L602.62 1073.9L631.44 1045.3L746.72 1136.8L919.64 1205.3" stroke="#000" stroke-width="1.8" fill="none" stroke-dasharray="6.9 6.4"/>
<path d="M573.8 1224.1L581 1143.2L588.21 1078.1L602.62 1069.9L631.44 1176L746.72 1220L919.64 1224.1" stroke="#000" stroke-width="1.7" fill="none"/>
<path d="M573.8 984.1V1224.1H934.05M567 1224.1H573.8M567 1176.1H573.8M567 1128.1H573.8M567 1080.1H573.8M567 1032.1H573.8M567 984.1H573.8M573.8 1224.1V1230.9M645.85 1224.1V1230.9M717.9 1224.1V1230.9M789.95 1224.1V1230.9M862 1224.1V1230.9M934.05 1224.1V1230.9" stroke="#000" stroke-width="1.75" fill="none"/>
<text transform="translate(543.53,1225.51) scale(1,1.028)" font-size="18.1" stroke="#fff" stroke-width="0.12">0</text>
<text transform="translate(538.19,1182.61) scale(1,1.028)" font-size="18.1" stroke="#fff" stroke-width="0.12">10</text>
<text transform="translate(538.42,1134.61) scale(1,1.028)" font-size="18.1" stroke="#fff" stroke-width="0.12">20</text>
<text transform="translate(538.51,1086.61) scale(1,1.028)" font-size="18.1" stroke="#fff" stroke-width="0.12">30</text>
<text transform="translate(538.69,1038.61) scale(1,1.028)" font-size="18.1" stroke="#fff" stroke-width="0.12">40</text>
<text transform="translate(538.51,990.61) scale(1,1.028)" font-size="18.1" stroke="#fff" stroke-width="0.12">50</text>
<text transform="translate(568.73,1249.46) scale(1,1.028)" font-size="18.1" stroke="#fff" stroke-width="0.12">0</text>
<text transform="translate(635.44,1249.46) scale(1,1.028)" font-size="18.1" stroke="#fff" stroke-width="0.12">10</text>
<text transform="translate(707.72,1249.46) scale(1,1.028)" font-size="18.1" stroke="#fff" stroke-width="0.12">20</text>
<text transform="translate(779.86,1249.46) scale(1,1.028)" font-size="18.1" stroke="#fff" stroke-width="0.12">30</text>
<text transform="translate(852.09,1249.46) scale(1,1.028)" font-size="18.1" stroke="#fff" stroke-width="0.12">40</text>
<text transform="translate(923.96,1249.46) scale(1,1.028)" font-size="18.1" stroke="#fff" stroke-width="0.12">50</text>
<text transform="translate(731.43,1278.9) scale(0.9264,0.9493)" font-size="20" font-weight="normal" fill="#000" stroke="#fff" stroke-width="0.12">Time (h)</text>
<text transform="translate(521.8,1174.9) rotate(-90) translate(-1.32,0) scale(1.0146,0.9724)" font-size="20" stroke="#fff" stroke-width="0.12">pmol/ml of blood</text>
<text transform="translate(387.72,1341) scale(1.0273,1.0545)" font-size="29" font-weight="normal" fill="#000" stroke="#fff" stroke-width="0.4">Endoxifen</text>
<text transform="translate(378.65,1473.8) scale(1.0661,1.0306)" font-size="18" font-weight="normal" fill="#000" stroke="#fff" stroke-width="0.12">n=5-7</text>
<path d="M76.5 1541.5V1552.2M72 1541.5H81M76.5 1562.9V1552.2M72 1562.9H81M80.1 1501V1521M75.6 1501H84.6M80.1 1542.1V1521M75.6 1542.1H84.6M87.3 1465.9V1496.6M82.8 1465.9H91.8M87.3 1527.2V1496.6M82.8 1527.2H91.8M101.7 1507.6V1528.2M97.2 1507.6H106.2M101.7 1549V1528.2M97.2 1549H106.2M159.3 1574.1V1580.4M154.8 1574.1H163.8M159.3 1586.7V1580.4M154.8 1586.7H163.8M249.3 1572.6V1579.3M244.8 1572.6H253.8M249.3 1585.9V1579.3M244.8 1585.9H253.8M252.9 1509.5V1525.3M248.4 1509.5H257.4M252.9 1540.7V1525.3M248.4 1540.7H257.4M260.1 1471.6V1491.2M255.6 1471.6H264.6M260.1 1511.4V1491.2M255.6 1511.4H264.6M274.5 1395.2V1421.9M270 1395.2H279M274.5 1448.2V1421.9M270 1448.2H279M332.1 1485.5V1521.5M327.6 1485.5H336.6M332.1 1557.8V1521.5M327.6 1557.8H336.6" stroke="#000" stroke-width="1.7" fill="none"/>
<path d="M72.9 1603.4L76.5 1552.2L80.1 1521L87.3 1496.6L101.7 1528.2L159.3 1580.4L245.7 1601.7L249.3 1579.3L252.9 1525.3L260.1 1491.2L274.5 1421.9L332.1 1521.5L418.5 1602.7" stroke="#000" stroke-width="1.7" fill="none"/>
<circle cx="72.9" cy="1603.4" r="5.5"/>
<circle cx="76.5" cy="1552.2" r="5.5"/>
<circle cx="80.1" cy="1521" r="5.5"/>
<circle cx="87.3" cy="1496.6" r="5.5"/>
<circle cx="101.7" cy="1528.2" r="5.5"/>
<circle cx="159.3" cy="1580.4" r="5.5"/>
<circle cx="245.7" cy="1601.7" r="5.5"/>
<circle cx="249.3" cy="1579.3" r="5.5"/>
<circle cx="252.9" cy="1525.3" r="5.5"/>
<circle cx="260.1" cy="1491.2" r="5.5"/>
<circle cx="274.5" cy="1421.9" r="5.5"/>
<circle cx="332.1" cy="1521.5" r="5.5"/>
<circle cx="418.5" cy="1602.7" r="5.5"/>
<path d="M72.9 1362.6V1603.4H432.9M66.1 1603.4H72.9M66.1 1569H72.9M66.1 1534.6H72.9M66.1 1500.2H72.9M66.1 1465.8H72.9M66.1 1431.4H72.9M66.1 1397H72.9M66.1 1362.6H72.9M72.9 1603.4V1610.2M144.9 1603.4V1610.2M216.9 1603.4V1610.2M288.9 1603.4V1610.2M360.9 1603.4V1610.2M432.9 1603.4V1610.2" stroke="#000" stroke-width="1.75" fill="none"/>
<text transform="translate(42.23,1604.91) scale(1,1.028)" font-size="18.1" stroke="#fff" stroke-width="0.12">0</text>
<text transform="translate(42.28,1576.82) scale(1,1.028)" font-size="18.1" stroke="#fff" stroke-width="0.12">5</text>
<text transform="translate(36.89,1542.51) scale(1,1.028)" font-size="18.1" stroke="#fff" stroke-width="0.12">10</text>
<text transform="translate(36.94,1508.02) scale(1,1.028)" font-size="18.1" stroke="#fff" stroke-width="0.12">15</text>
<text transform="translate(37.12,1473.71) scale(1,1.028)" font-size="18.1" stroke="#fff" stroke-width="0.12">20</text>
<text transform="translate(37.16,1439.31) scale(1,1.028)" font-size="18.1" stroke="#fff" stroke-width="0.12">25</text>
<text transform="translate(37.21,1404.91) scale(1,1.028)" font-size="18.1" stroke="#fff" stroke-width="0.12">30</text>
<text transform="translate(37.25,1370.51) scale(1,1.028)" font-size="18.1" stroke="#fff" stroke-width="0.12">35</text>
<text transform="translate(66.83,1629.56) scale(1,1.028)" font-size="18.1" stroke="#fff" stroke-width="0.12">0</text>
<text transform="translate(133.72,1629.56) scale(1,1.028)" font-size="18.1" stroke="#fff" stroke-width="0.12">20</text>
<text transform="translate(205.99,1629.56) scale(1,1.028)" font-size="18.1" stroke="#fff" stroke-width="0.12">40</text>
<text transform="translate(277.72,1629.56) scale(1,1.028)" font-size="18.1" stroke="#fff" stroke-width="0.12">60</text>
<text transform="translate(349.76,1629.56) scale(1,1.028)" font-size="18.1" stroke="#fff" stroke-width="0.12">80</text>
<text transform="translate(416.47,1629.56) scale(1,1.028)" font-size="18.1" stroke="#fff" stroke-width="0.12">100</text>
<text transform="translate(217.73,1660.1) scale(0.9264,0.9493)" font-size="20" font-weight="normal" fill="#000" stroke="#fff" stroke-width="0.12">Time (h)</text>
<text transform="translate(19.5,1553.4) rotate(-90) translate(-1.32,0) scale(1.0146,0.9724)" font-size="20" stroke="#fff" stroke-width="0.12">pmol/ml of blood</text>
<path d="M573.2 1601.7L580.41 1579.3L587.61 1525.3L602.02 1491.2L630.84 1421.9L746.12 1521.5L919.04 1602.7L919.04 1603.4L573.2 1603.4Z" fill="#d5d4d5"/>
<path d="M573.2 1603.4L580.41 1552.2L587.61 1521L602.02 1496.6L630.84 1528.2L746.12 1580.4L919.04 1601.7L919.04 1603.4L573.2 1603.4Z" fill="#fff" stroke="#fff" stroke-width="1.5"/>
<path d="M573.2 1603.4L580.41 1552.2L587.61 1521L602.02 1496.6L630.84 1528.2L746.12 1580.4L919.04 1601.7" stroke="#fff" stroke-width="3.9000000000000004" fill="none" stroke-linejoin="round"/>
<path d="M580.41 1572.6V1573.8M575.91 1572.6H584.91M580.41 1585.9V1584.8M575.91 1585.9H584.91M587.61 1509.5V1519.8M583.11 1509.5H592.11M587.61 1540.7V1530.8M583.11 1540.7H592.11M602.02 1471.6V1485.7M597.52 1471.6H606.52M602.02 1511.4V1496.7M597.52 1511.4H606.52M630.84 1395.2V1416.4M626.34 1395.2H635.34M630.84 1448.2V1427.4M626.34 1448.2H635.34M746.12 1485.5V1516M741.62 1485.5H750.62M746.12 1557.8V1527M741.62 1557.8H750.62M580.41 1541.5V1552.2M575.91 1541.5H584.91M580.41 1562.9V1552.2M575.91 1562.9H584.91M587.61 1501V1521M583.11 1501H592.11M587.61 1542.1V1521M583.11 1542.1H592.11M602.02 1465.9V1496.6M597.52 1465.9H606.52M602.02 1527.2V1496.6M597.52 1527.2H606.52M630.84 1507.6V1528.2M626.34 1507.6H635.34M630.84 1549V1528.2M626.34 1549H635.34M746.12 1574.1V1580.4M741.62 1574.1H750.62M746.12 1586.7V1580.4M741.62 1586.7H750.62" stroke="#fff" stroke-width="3.7" fill="none" stroke-linecap="square"/>
<circle cx="573.2" cy="1603.4" r="6.5" fill="#fff"/>
<circle cx="580.41" cy="1552.2" r="6.5" fill="#fff"/>
<circle cx="587.61" cy="1521" r="6.5" fill="#fff"/>
<circle cx="602.02" cy="1496.6" r="6.5" fill="#fff"/>
<circle cx="630.84" cy="1528.2" r="6.5" fill="#fff"/>
<circle cx="746.12" cy="1580.4" r="6.5" fill="#fff"/>
<circle cx="919.04" cy="1601.7" r="6.5" fill="#fff"/>
<path d="M580.41 1572.6V1573.8M575.91 1572.6H584.91M580.41 1585.9V1584.8M575.91 1585.9H584.91M587.61 1509.5V1519.8M583.11 1509.5H592.11M587.61 1540.7V1530.8M583.11 1540.7H592.11M602.02 1471.6V1485.7M597.52 1471.6H606.52M602.02 1511.4V1496.7M597.52 1511.4H606.52M630.84 1395.2V1416.4M626.34 1395.2H635.34M630.84 1448.2V1427.4M626.34 1448.2H635.34M746.12 1485.5V1516M741.62 1485.5H750.62M746.12 1557.8V1527M741.62 1557.8H750.62" stroke="#000" stroke-width="1.7" fill="none"/>
<circle cx="573.2" cy="1601.7" r="4.65" fill="#fff" stroke="#000" stroke-width="1.7"/>
<circle cx="580.41" cy="1579.3" r="4.65" fill="#fff" stroke="#000" stroke-width="1.7"/>
<circle cx="587.61" cy="1525.3" r="4.65" fill="#fff" stroke="#000" stroke-width="1.7"/>
<circle cx="602.02" cy="1491.2" r="4.65" fill="#fff" stroke="#000" stroke-width="1.7"/>
<circle cx="630.84" cy="1421.9" r="4.65" fill="#fff" stroke="#000" stroke-width="1.7"/>
<circle cx="746.12" cy="1521.5" r="4.65" fill="#fff" stroke="#000" stroke-width="1.7"/>
<circle cx="919.04" cy="1602.7" r="4.65" fill="#fff" stroke="#000" stroke-width="1.7"/>
<path d="M580.41 1541.5V1552.2M575.91 1541.5H584.91M580.41 1562.9V1552.2M575.91 1562.9H584.91M587.61 1501V1521M583.11 1501H592.11M587.61 1542.1V1521M583.11 1542.1H592.11M602.02 1465.9V1496.6M597.52 1465.9H606.52M602.02 1527.2V1496.6M597.52 1527.2H606.52M630.84 1507.6V1528.2M626.34 1507.6H635.34M630.84 1549V1528.2M626.34 1549H635.34M746.12 1574.1V1580.4M741.62 1574.1H750.62M746.12 1586.7V1580.4M741.62 1586.7H750.62" stroke="#000" stroke-width="1.7" fill="none"/>
<circle cx="573.2" cy="1603.4" r="5.5"/>
<circle cx="580.41" cy="1552.2" r="5.5"/>
<circle cx="587.61" cy="1521" r="5.5"/>
<circle cx="602.02" cy="1496.6" r="5.5"/>
<circle cx="630.84" cy="1528.2" r="5.5"/>
<circle cx="746.12" cy="1580.4" r="5.5"/>
<circle cx="919.04" cy="1601.7" r="5.5"/>
<path d="M573.2 1601.7L580.41 1579.3L587.61 1525.3L602.02 1491.2L630.84 1421.9L746.12 1521.5L919.04 1602.7" stroke="#000" stroke-width="1.8" fill="none" stroke-dasharray="6.9 6.4"/>
<path d="M573.2 1603.4L580.41 1552.2L587.61 1521L602.02 1496.6L630.84 1528.2L746.12 1580.4L919.04 1601.7" stroke="#000" stroke-width="1.7" fill="none"/>
<path d="M631.3 1380.52L635.05 1381.16A1.06 1.06 0 0 0 635.05 1379.04L631.3 1379.68ZM630.69 1380.74L632.01 1384.31A1.06 1.06 0 0 0 633.84 1383.25L631.41 1380.32ZM630.19 1380.32L627.76 1383.25A1.06 1.06 0 0 0 629.59 1384.31L630.91 1380.74ZM630.3 1379.68L626.55 1379.04A1.06 1.06 0 0 0 626.55 1381.16L630.3 1380.52ZM630.91 1379.46L629.59 1375.89A1.06 1.06 0 0 0 627.76 1376.95L630.19 1379.88ZM631.41 1379.88L633.84 1376.95A1.06 1.06 0 0 0 632.01 1375.89L630.69 1379.46ZM631.65 1380.1A0.85 0.85 0 1 0 629.95 1380.1A0.85 0.85 0 1 0 631.65 1380.1Z" fill="#000"/>
<path d="M573.2 1362.6V1603.4H933.45M566.4 1603.4H573.2M566.4 1569H573.2M566.4 1534.6H573.2M566.4 1500.2H573.2M566.4 1465.8H573.2M566.4 1431.4H573.2M566.4 1397H573.2M566.4 1362.6H573.2M573.2 1603.4V1610.2M645.25 1603.4V1610.2M717.3 1603.4V1610.2M789.35 1603.4V1610.2M861.4 1603.4V1610.2M933.45 1603.4V1610.2" stroke="#000" stroke-width="1.75" fill="none"/>
<text transform="translate(542.03,1603.51) scale(1,1.028)" font-size="18.1" stroke="#fff" stroke-width="0.12">0</text>
<text transform="translate(542.08,1574.62) scale(1,1.028)" font-size="18.1" stroke="#fff" stroke-width="0.12">5</text>
<text transform="translate(536.69,1540.31) scale(1,1.028)" font-size="18.1" stroke="#fff" stroke-width="0.12">10</text>
<text transform="translate(536.74,1505.82) scale(1,1.028)" font-size="18.1" stroke="#fff" stroke-width="0.12">15</text>
<text transform="translate(536.92,1471.51) scale(1,1.028)" font-size="18.1" stroke="#fff" stroke-width="0.12">20</text>
<text transform="translate(536.96,1437.11) scale(1,1.028)" font-size="18.1" stroke="#fff" stroke-width="0.12">25</text>
<text transform="translate(537.01,1402.71) scale(1,1.028)" font-size="18.1" stroke="#fff" stroke-width="0.12">30</text>
<text transform="translate(537.05,1368.31) scale(1,1.028)" font-size="18.1" stroke="#fff" stroke-width="0.12">35</text>
<text transform="translate(567.63,1628.16) scale(1,1.028)" font-size="18.1" stroke="#fff" stroke-width="0.12">0</text>
<text transform="translate(634.34,1628.16) scale(1,1.028)" font-size="18.1" stroke="#fff" stroke-width="0.12">10</text>
<text transform="translate(706.62,1628.16) scale(1,1.028)" font-size="18.1" stroke="#fff" stroke-width="0.12">20</text>
<text transform="translate(778.76,1628.16) scale(1,1.028)" font-size="18.1" stroke="#fff" stroke-width="0.12">30</text>
<text transform="translate(850.99,1628.16) scale(1,1.028)" font-size="18.1" stroke="#fff" stroke-width="0.12">40</text>
<text transform="translate(922.86,1628.16) scale(1,1.028)" font-size="18.1" stroke="#fff" stroke-width="0.12">50</text>
<text transform="translate(730.83,1657.5) scale(0.9264,0.9493)" font-size="20" font-weight="normal" fill="#000" stroke="#fff" stroke-width="0.12">Time (h)</text>
<text transform="translate(521.3,1553.4) rotate(-90) translate(-1.32,0) scale(1.0146,0.9724)" font-size="20" stroke="#fff" stroke-width="0.12">pmol/ml of blood</text>
<text transform="translate(260.4,1711.8) scale(1.0380,1.0545)" font-size="29" font-weight="normal" fill="#000" stroke="#fff" stroke-width="0.4">4-OH-Tamoxifen-glucuronide</text>
<text transform="translate(360.35,1865.7) scale(1.0647,1.0306)" font-size="18" font-weight="normal" fill="#000" stroke="#fff" stroke-width="0.12">n=15-18</text>
<path d="M76.1 1929.3V1939.1M71.6 1929.3H80.6M76.1 1949.2V1939.1M71.6 1949.2H80.6M79.7 1911.3V1919.4M75.2 1911.3H84.2M79.7 1927.4V1919.4M75.2 1927.4H84.2M86.9 1912.6V1919.4M82.4 1912.6H91.4M86.9 1924.5V1919.4M82.4 1924.5H91.4M101.3 1932V1938.4M96.8 1932H105.8M101.3 1944.4V1938.4M96.8 1944.4H105.8M248.9 1922.9V1929M244.4 1922.9H253.4M248.9 1934.9V1929M244.4 1934.9H253.4M252.5 1817.1V1836.4M248 1817.1H257M252.5 1855.4V1836.4M248 1855.4H257M259.7 1742V1766.3M255.2 1742H264.2M259.7 1790.7V1766.3M255.2 1790.7H264.2M274.1 1855V1869.3M269.6 1855H278.6M274.1 1883.2V1869.3M269.6 1883.2H278.6M331.7 1870.9V1893.9M327.2 1870.9H336.2M331.7 1916.9V1893.9M327.2 1916.9H336.2" stroke="#000" stroke-width="1.7" fill="none"/>
<path d="M72.5 1981.2L76.1 1939.1L79.7 1919.4L86.9 1919.4L101.3 1938.4L158.9 1958.1L245.3 1972.2L248.9 1929L252.5 1836.4L259.7 1766.3L274.1 1869.3L331.7 1893.9L418.1 1973" stroke="#000" stroke-width="1.7" fill="none"/>
<circle cx="72.5" cy="1981.2" r="5.5"/>
<circle cx="76.1" cy="1939.1" r="5.5"/>
<circle cx="79.7" cy="1919.4" r="5.5"/>
<circle cx="86.9" cy="1919.4" r="5.5"/>
<circle cx="101.3" cy="1938.4" r="5.5"/>
<circle cx="158.9" cy="1958.1" r="5.5"/>
<circle cx="245.3" cy="1972.2" r="5.5"/>
<circle cx="248.9" cy="1929" r="5.5"/>
<circle cx="252.5" cy="1836.4" r="5.5"/>
<circle cx="259.7" cy="1766.3" r="5.5"/>
<circle cx="274.1" cy="1869.3" r="5.5"/>
<circle cx="331.7" cy="1893.9" r="5.5"/>
<circle cx="418.1" cy="1973" r="5.5"/>
<path d="M72.5 1741V1981.2H432.5M65.7 1981.2H72.5M65.7 1933.16H72.5M65.7 1885.12H72.5M65.7 1837.08H72.5M65.7 1789.04H72.5M65.7 1741H72.5M72.5 1981.2V1988M144.5 1981.2V1988M216.5 1981.2V1988M288.5 1981.2V1988M360.5 1981.2V1988M432.5 1981.2V1988" stroke="#000" stroke-width="1.75" fill="none"/>
<text transform="translate(40.63,1984.31) scale(1,1.028)" font-size="18.1" stroke="#fff" stroke-width="0.12">0</text>
<text transform="translate(35.52,1938.77) scale(1,1.028)" font-size="18.1" stroke="#fff" stroke-width="0.12">20</text>
<text transform="translate(35.79,1890.73) scale(1,1.028)" font-size="18.1" stroke="#fff" stroke-width="0.12">40</text>
<text transform="translate(35.52,1842.69) scale(1,1.028)" font-size="18.1" stroke="#fff" stroke-width="0.12">60</text>
<text transform="translate(35.56,1794.65) scale(1,1.028)" font-size="18.1" stroke="#fff" stroke-width="0.12">80</text>
<text transform="translate(30.27,1746.61) scale(1,1.028)" font-size="18.1" stroke="#fff" stroke-width="0.12">100</text>
<text transform="translate(66.53,2007.76) scale(1,1.028)" font-size="18.1" stroke="#fff" stroke-width="0.12">0</text>
<text transform="translate(133.42,2007.76) scale(1,1.028)" font-size="18.1" stroke="#fff" stroke-width="0.12">20</text>
<text transform="translate(205.69,2007.76) scale(1,1.028)" font-size="18.1" stroke="#fff" stroke-width="0.12">40</text>
<text transform="translate(277.42,2007.76) scale(1,1.028)" font-size="18.1" stroke="#fff" stroke-width="0.12">60</text>
<text transform="translate(349.46,2007.76) scale(1,1.028)" font-size="18.1" stroke="#fff" stroke-width="0.12">80</text>
<text transform="translate(416.17,2007.76) scale(1,1.028)" font-size="18.1" stroke="#fff" stroke-width="0.12">100</text>
<text transform="translate(218.63,2038.7) scale(0.9264,0.9493)" font-size="20" font-weight="normal" fill="#000" stroke="#fff" stroke-width="0.12">Time (h)</text>
<text transform="translate(19.5,1932.6) rotate(-90) translate(-1.32,0) scale(1.0146,0.9724)" font-size="20" stroke="#fff" stroke-width="0.12">pmol/ml of blood</text>
<path d="M572.5 1972.2L579.71 1929L586.91 1836.4L601.32 1766.3L630.14 1869.3L745.42 1893.9L918.34 1973L918.34 1981.2L572.5 1981.2Z" fill="#d5d4d5"/>
<path d="M572.5 1981.2L579.71 1939.1L586.91 1919.4L601.32 1919.4L630.14 1938.4L745.42 1958.1L918.34 1972.2L918.34 1981.2L572.5 1981.2Z" fill="#fff" stroke="#fff" stroke-width="1.5"/>
<path d="M572.5 1981.2L579.71 1939.1L586.91 1919.4L601.32 1919.4L630.14 1938.4L745.42 1958.1L918.34 1972.2" stroke="#fff" stroke-width="3.9000000000000004" fill="none" stroke-linejoin="round"/>
<path d="M579.71 1922.9V1923.5M575.21 1922.9H584.21M579.71 1934.9V1934.5M575.21 1934.9H584.21M586.91 1817.1V1830.9M582.41 1817.1H591.41M586.91 1855.4V1841.9M582.41 1855.4H591.41M601.32 1742V1760.8M596.82 1742H605.82M601.32 1790.7V1771.8M596.82 1790.7H605.82M630.14 1855V1863.8M625.64 1855H634.64M630.14 1883.2V1874.8M625.64 1883.2H634.64M745.42 1870.9V1888.4M740.92 1870.9H749.92M745.42 1916.9V1899.4M740.92 1916.9H749.92M579.71 1929.3V1939.1M575.21 1929.3H584.21M579.71 1949.2V1939.1M575.21 1949.2H584.21M586.91 1911.3V1919.4M582.41 1911.3H591.41M586.91 1927.4V1919.4M582.41 1927.4H591.41M601.32 1912.6V1919.4M596.82 1912.6H605.82M601.32 1924.5V1919.4M596.82 1924.5H605.82M630.14 1932V1938.4M625.64 1932H634.64M630.14 1944.4V1938.4M625.64 1944.4H634.64" stroke="#fff" stroke-width="3.7" fill="none" stroke-linecap="square"/>
<circle cx="572.5" cy="1981.2" r="6.5" fill="#fff"/>
<circle cx="579.71" cy="1939.1" r="6.5" fill="#fff"/>
<circle cx="586.91" cy="1919.4" r="6.5" fill="#fff"/>
<circle cx="601.32" cy="1919.4" r="6.5" fill="#fff"/>
<circle cx="630.14" cy="1938.4" r="6.5" fill="#fff"/>
<circle cx="745.42" cy="1958.1" r="6.5" fill="#fff"/>
<circle cx="918.34" cy="1972.2" r="6.5" fill="#fff"/>
<path d="M579.71 1922.9V1923.5M575.21 1922.9H584.21M579.71 1934.9V1934.5M575.21 1934.9H584.21M586.91 1817.1V1830.9M582.41 1817.1H591.41M586.91 1855.4V1841.9M582.41 1855.4H591.41M601.32 1742V1760.8M596.82 1742H605.82M601.32 1790.7V1771.8M596.82 1790.7H605.82M630.14 1855V1863.8M625.64 1855H634.64M630.14 1883.2V1874.8M625.64 1883.2H634.64M745.42 1870.9V1888.4M740.92 1870.9H749.92M745.42 1916.9V1899.4M740.92 1916.9H749.92" stroke="#000" stroke-width="1.7" fill="none"/>
<circle cx="572.5" cy="1972.2" r="4.65" fill="#fff" stroke="#000" stroke-width="1.7"/>
<circle cx="579.71" cy="1929" r="4.65" fill="#fff" stroke="#000" stroke-width="1.7"/>
<circle cx="586.91" cy="1836.4" r="4.65" fill="#fff" stroke="#000" stroke-width="1.7"/>
<circle cx="601.32" cy="1766.3" r="4.65" fill="#fff" stroke="#000" stroke-width="1.7"/>
<circle cx="630.14" cy="1869.3" r="4.65" fill="#fff" stroke="#000" stroke-width="1.7"/>
<circle cx="745.42" cy="1893.9" r="4.65" fill="#fff" stroke="#000" stroke-width="1.7"/>
<circle cx="918.34" cy="1973" r="4.65" fill="#fff" stroke="#000" stroke-width="1.7"/>
<path d="M579.71 1929.3V1939.1M575.21 1929.3H584.21M579.71 1949.2V1939.1M575.21 1949.2H584.21M586.91 1911.3V1919.4M582.41 1911.3H591.41M586.91 1927.4V1919.4M582.41 1927.4H591.41M601.32 1912.6V1919.4M596.82 1912.6H605.82M601.32 1924.5V1919.4M596.82 1924.5H605.82M630.14 1932V1938.4M625.64 1932H634.64M630.14 1944.4V1938.4M625.64 1944.4H634.64" stroke="#000" stroke-width="1.7" fill="none"/>
<circle cx="572.5" cy="1981.2" r="5.5"/>
<circle cx="579.71" cy="1939.1" r="5.5"/>
<circle cx="586.91" cy="1919.4" r="5.5"/>
<circle cx="601.32" cy="1919.4" r="5.5"/>
<circle cx="630.14" cy="1938.4" r="5.5"/>
<circle cx="745.42" cy="1958.1" r="5.5"/>
<circle cx="918.34" cy="1972.2" r="5.5"/>
<path d="M572.5 1972.2L579.71 1929L586.91 1836.4L601.32 1766.3L630.14 1869.3L745.42 1893.9L918.34 1973" stroke="#000" stroke-width="1.8" fill="none" stroke-dasharray="6.9 6.4"/>
<path d="M572.5 1981.2L579.71 1939.1L586.91 1919.4L601.32 1919.4L630.14 1938.4L745.42 1958.1L918.34 1972.2" stroke="#000" stroke-width="1.7" fill="none"/>
<path d="M583.23 1727.32L586.98 1727.96A1.06 1.06 0 0 0 586.98 1725.84L583.23 1726.48ZM582.61 1727.54L583.93 1731.11A1.06 1.06 0 0 0 585.77 1730.05L583.34 1727.12ZM582.11 1727.12L579.68 1730.05A1.06 1.06 0 0 0 581.52 1731.11L582.84 1727.54ZM582.23 1726.48L578.48 1725.84A1.06 1.06 0 0 0 578.48 1727.96L582.23 1727.32ZM582.84 1726.26L581.52 1722.69A1.06 1.06 0 0 0 579.68 1723.75L582.11 1726.68ZM583.34 1726.68L585.77 1723.75A1.06 1.06 0 0 0 583.93 1722.69L582.61 1726.26ZM583.58 1726.9A0.85 0.85 0 1 0 581.88 1726.9A0.85 0.85 0 1 0 583.58 1726.9ZM595.68 1727.32L599.43 1727.96A1.06 1.06 0 0 0 599.43 1725.84L595.68 1726.48ZM595.06 1727.54L596.38 1731.11A1.06 1.06 0 0 0 598.22 1730.05L595.79 1727.12ZM594.56 1727.12L592.13 1730.05A1.06 1.06 0 0 0 593.97 1731.11L595.29 1727.54ZM594.68 1726.48L590.93 1725.84A1.06 1.06 0 0 0 590.93 1727.96L594.68 1727.32ZM595.29 1726.26L593.97 1722.69A1.06 1.06 0 0 0 592.13 1723.75L594.56 1726.68ZM595.79 1726.68L598.22 1723.75A1.06 1.06 0 0 0 596.38 1722.69L595.06 1726.26ZM596.03 1726.9A0.85 0.85 0 1 0 594.33 1726.9A0.85 0.85 0 1 0 596.03 1726.9ZM608.12 1727.32L611.88 1727.96A1.06 1.06 0 0 0 611.88 1725.84L608.12 1726.48ZM607.51 1727.54L608.83 1731.11A1.06 1.06 0 0 0 610.67 1730.05L608.24 1727.12ZM607.01 1727.12L604.58 1730.05A1.06 1.06 0 0 0 606.42 1731.11L607.74 1727.54ZM607.12 1726.48L603.38 1725.84A1.06 1.06 0 0 0 603.38 1727.96L607.12 1727.32ZM607.74 1726.26L606.42 1722.69A1.06 1.06 0 0 0 604.58 1723.75L607.01 1726.68ZM608.24 1726.68L610.67 1723.75A1.06 1.06 0 0 0 608.83 1722.69L607.51 1726.26ZM608.48 1726.9A0.85 0.85 0 1 0 606.77 1726.9A0.85 0.85 0 1 0 608.48 1726.9ZM620.58 1727.32L624.33 1727.96A1.06 1.06 0 0 0 624.33 1725.84L620.58 1726.48ZM619.96 1727.54L621.28 1731.11A1.06 1.06 0 0 0 623.12 1730.05L620.69 1727.12ZM619.46 1727.12L617.03 1730.05A1.06 1.06 0 0 0 618.87 1731.11L620.19 1727.54ZM619.58 1726.48L615.83 1725.84A1.06 1.06 0 0 0 615.83 1727.96L619.58 1727.32ZM620.19 1726.26L618.87 1722.69A1.06 1.06 0 0 0 617.03 1723.75L619.46 1726.68ZM620.69 1726.68L623.12 1723.75A1.06 1.06 0 0 0 621.28 1722.69L619.96 1726.26ZM620.93 1726.9A0.85 0.85 0 1 0 619.23 1726.9A0.85 0.85 0 1 0 620.93 1726.9ZM576.45 1802.32L580.2 1802.96A1.06 1.06 0 0 0 580.2 1800.84L576.45 1801.48ZM575.84 1802.54L577.16 1806.11A1.06 1.06 0 0 0 578.99 1805.05L576.56 1802.12ZM575.34 1802.12L572.91 1805.05A1.06 1.06 0 0 0 574.74 1806.11L576.06 1802.54ZM575.45 1801.48L571.7 1800.84A1.06 1.06 0 0 0 571.7 1802.96L575.45 1802.32ZM576.06 1801.26L574.74 1797.69A1.06 1.06 0 0 0 572.91 1798.75L575.34 1801.68ZM576.56 1801.68L578.99 1798.75A1.06 1.06 0 0 0 577.16 1797.69L575.84 1801.26ZM576.8 1801.9A0.85 0.85 0 1 0 575.1 1801.9A0.85 0.85 0 1 0 576.8 1801.9ZM588.9 1802.32L592.65 1802.96A1.06 1.06 0 0 0 592.65 1800.84L588.9 1801.48ZM588.29 1802.54L589.61 1806.11A1.06 1.06 0 0 0 591.44 1805.05L589.01 1802.12ZM587.79 1802.12L585.36 1805.05A1.06 1.06 0 0 0 587.19 1806.11L588.51 1802.54ZM587.9 1801.48L584.15 1800.84A1.06 1.06 0 0 0 584.15 1802.96L587.9 1802.32ZM588.51 1801.26L587.19 1797.69A1.06 1.06 0 0 0 585.36 1798.75L587.79 1801.68ZM589.01 1801.68L591.44 1798.75A1.06 1.06 0 0 0 589.61 1797.69L588.29 1801.26ZM589.25 1801.9A0.85 0.85 0 1 0 587.55 1801.9A0.85 0.85 0 1 0 589.25 1801.9ZM601.35 1802.32L605.1 1802.96A1.06 1.06 0 0 0 605.1 1800.84L601.35 1801.48ZM600.74 1802.54L602.06 1806.11A1.06 1.06 0 0 0 603.89 1805.05L601.46 1802.12ZM600.24 1802.12L597.81 1805.05A1.06 1.06 0 0 0 599.64 1806.11L600.96 1802.54ZM600.35 1801.48L596.6 1800.84A1.06 1.06 0 0 0 596.6 1802.96L600.35 1802.32ZM600.96 1801.26L599.64 1797.69A1.06 1.06 0 0 0 597.81 1798.75L600.24 1801.68ZM601.46 1801.68L603.89 1798.75A1.06 1.06 0 0 0 602.06 1797.69L600.74 1801.26ZM601.7 1801.9A0.85 0.85 0 1 0 600 1801.9A0.85 0.85 0 1 0 601.7 1801.9ZM629.75 1837.92L633.5 1838.56A1.06 1.06 0 0 0 633.5 1836.44L629.75 1837.08ZM629.14 1838.14L630.46 1841.71A1.06 1.06 0 0 0 632.29 1840.65L629.86 1837.72ZM628.64 1837.72L626.21 1840.65A1.06 1.06 0 0 0 628.04 1841.71L629.36 1838.14ZM628.75 1837.08L625 1836.44A1.06 1.06 0 0 0 625 1838.56L628.75 1837.92ZM629.36 1836.86L628.04 1833.29A1.06 1.06 0 0 0 626.21 1834.35L628.64 1837.28ZM629.86 1837.28L632.29 1834.35A1.06 1.06 0 0 0 630.46 1833.29L629.14 1836.86ZM630.1 1837.5A0.85 0.85 0 1 0 628.4 1837.5A0.85 0.85 0 1 0 630.1 1837.5ZM642.2 1837.92L645.95 1838.56A1.06 1.06 0 0 0 645.95 1836.44L642.2 1837.08ZM641.59 1838.14L642.91 1841.71A1.06 1.06 0 0 0 644.74 1840.65L642.31 1837.72ZM641.09 1837.72L638.66 1840.65A1.06 1.06 0 0 0 640.49 1841.71L641.81 1838.14ZM641.2 1837.08L637.45 1836.44A1.06 1.06 0 0 0 637.45 1838.56L641.2 1837.92ZM641.81 1836.86L640.49 1833.29A1.06 1.06 0 0 0 638.66 1834.35L641.09 1837.28ZM642.31 1837.28L644.74 1834.35A1.06 1.06 0 0 0 642.91 1833.29L641.59 1836.86ZM642.55 1837.5A0.85 0.85 0 1 0 640.85 1837.5A0.85 0.85 0 1 0 642.55 1837.5ZM654.65 1837.92L658.4 1838.56A1.06 1.06 0 0 0 658.4 1836.44L654.65 1837.08ZM654.04 1838.14L655.36 1841.71A1.06 1.06 0 0 0 657.19 1840.65L654.76 1837.72ZM653.54 1837.72L651.11 1840.65A1.06 1.06 0 0 0 652.94 1841.71L654.26 1838.14ZM653.65 1837.08L649.9 1836.44A1.06 1.06 0 0 0 649.9 1838.56L653.65 1837.92ZM654.26 1836.86L652.94 1833.29A1.06 1.06 0 0 0 651.11 1834.35L653.54 1837.28ZM654.76 1837.28L657.19 1834.35A1.06 1.06 0 0 0 655.36 1833.29L654.04 1836.86ZM655 1837.5A0.85 0.85 0 1 0 653.3 1837.5A0.85 0.85 0 1 0 655 1837.5ZM746.1 1855.52L749.85 1856.16A1.06 1.06 0 0 0 749.85 1854.04L746.1 1854.68ZM745.49 1855.74L746.81 1859.31A1.06 1.06 0 0 0 748.64 1858.25L746.21 1855.32ZM744.99 1855.32L742.56 1858.25A1.06 1.06 0 0 0 744.39 1859.31L745.71 1855.74ZM745.1 1854.68L741.35 1854.04A1.06 1.06 0 0 0 741.35 1856.16L745.1 1855.52ZM745.71 1854.46L744.39 1850.89A1.06 1.06 0 0 0 742.56 1851.95L744.99 1854.88ZM746.21 1854.88L748.64 1851.95A1.06 1.06 0 0 0 746.81 1850.89L745.49 1854.46ZM746.45 1855.1A0.85 0.85 0 1 0 744.75 1855.1A0.85 0.85 0 1 0 746.45 1855.1Z" fill="#000"/>
<path d="M572.5 1741V1981.2H932.75M565.7 1981.2H572.5M565.7 1933.16H572.5M565.7 1885.12H572.5M565.7 1837.08H572.5M565.7 1789.04H572.5M565.7 1741H572.5M572.5 1981.2V1988M644.55 1981.2V1988M716.6 1981.2V1988M788.65 1981.2V1988M860.7 1981.2V1988M932.75 1981.2V1988" stroke="#000" stroke-width="1.75" fill="none"/>
<text transform="translate(540.63,1983.51) scale(1,1.028)" font-size="18.1" stroke="#fff" stroke-width="0.12">0</text>
<text transform="translate(535.52,1939.17) scale(1,1.028)" font-size="18.1" stroke="#fff" stroke-width="0.12">20</text>
<text transform="translate(535.79,1891.13) scale(1,1.028)" font-size="18.1" stroke="#fff" stroke-width="0.12">40</text>
<text transform="translate(535.52,1843.09) scale(1,1.028)" font-size="18.1" stroke="#fff" stroke-width="0.12">60</text>
<text transform="translate(535.56,1795.05) scale(1,1.028)" font-size="18.1" stroke="#fff" stroke-width="0.12">80</text>
<text transform="translate(530.27,1747.01) scale(1,1.028)" font-size="18.1" stroke="#fff" stroke-width="0.12">100</text>
<text transform="translate(567.53,2007.46) scale(1,1.028)" font-size="18.1" stroke="#fff" stroke-width="0.12">0</text>
<text transform="translate(634.24,2007.46) scale(1,1.028)" font-size="18.1" stroke="#fff" stroke-width="0.12">10</text>
<text transform="translate(706.52,2007.46) scale(1,1.028)" font-size="18.1" stroke="#fff" stroke-width="0.12">20</text>
<text transform="translate(778.66,2007.46) scale(1,1.028)" font-size="18.1" stroke="#fff" stroke-width="0.12">30</text>
<text transform="translate(850.89,2007.46) scale(1,1.028)" font-size="18.1" stroke="#fff" stroke-width="0.12">40</text>
<text transform="translate(922.76,2007.46) scale(1,1.028)" font-size="18.1" stroke="#fff" stroke-width="0.12">50</text>
<text transform="translate(731.03,2036.2) scale(0.9264,0.9493)" font-size="20" font-weight="normal" fill="#000" stroke="#fff" stroke-width="0.12">Time (h)</text>
<text transform="translate(520.6,1932.6) rotate(-90) translate(-1.32,0) scale(1.0146,0.9724)" font-size="20" stroke="#fff" stroke-width="0.12">pmol/ml of blood</text>
<text transform="translate(302.06,2098.2) scale(1.0515,1.0545)" font-size="29" font-weight="normal" fill="#000" stroke="#fff" stroke-width="0.4">Endoxifen-glucuronide</text>
<text transform="translate(358.44,2252.6) scale(1.0764,1.0306)" font-size="18" font-weight="normal" fill="#000" stroke="#fff" stroke-width="0.12">n=11-13</text>
<path d="M86.9 2297.6V2304.2M82.4 2297.6H91.4M86.9 2310.1V2304.2M82.4 2310.1H91.4M101.3 2310.9V2318.1M96.8 2310.9H105.8M101.3 2325V2318.1M96.8 2325H105.8M252.5 2276.8V2288M248 2276.8H257M252.5 2300V2288M248 2300H257M259.7 2144.8V2167.2M255.2 2144.8H264.2M259.7 2189.6V2167.2M255.2 2189.6H264.2M274.1 2210.7V2227.8M269.6 2210.7H278.6M274.1 2244.8V2227.8M269.6 2244.8H278.6M331.7 2252.4V2278.6M327.2 2252.4H336.2M331.7 2304.8V2278.6M327.2 2304.8H336.2M418.1 2341.7V2347.3M413.6 2341.7H422.6M418.1 2353V2347.3M413.6 2353H422.6" stroke="#000" stroke-width="1.7" fill="none"/>
<path d="M72.5 2362.2L76.1 2346.7L79.7 2322.2L86.9 2304.2L101.3 2318.1L158.9 2344L245.3 2354.7L248.9 2339.9L252.5 2288L259.7 2167.2L274.1 2227.8L331.7 2278.6L418.1 2347.3" stroke="#000" stroke-width="1.7" fill="none"/>
<circle cx="72.5" cy="2362.2" r="5.5"/>
<circle cx="76.1" cy="2346.7" r="5.5"/>
<circle cx="79.7" cy="2322.2" r="5.5"/>
<circle cx="86.9" cy="2304.2" r="5.5"/>
<circle cx="101.3" cy="2318.1" r="5.5"/>
<circle cx="158.9" cy="2344" r="5.5"/>
<circle cx="245.3" cy="2354.7" r="5.5"/>
<circle cx="248.9" cy="2339.9" r="5.5"/>
<circle cx="252.5" cy="2288" r="5.5"/>
<circle cx="259.7" cy="2167.2" r="5.5"/>
<circle cx="274.1" cy="2227.8" r="5.5"/>
<circle cx="331.7" cy="2278.6" r="5.5"/>
<circle cx="418.1" cy="2347.3" r="5.5"/>
<path d="M72.5 2121V2362.2H432.5M65.7 2362.2H72.5M65.7 2308.8H72.5M65.7 2255.4H72.5M65.7 2202H72.5M65.7 2148.6H72.5M72.5 2362.2V2369M144.5 2362.2V2369M216.5 2362.2V2369M288.5 2362.2V2369M360.5 2362.2V2369M432.5 2362.2V2369" stroke="#000" stroke-width="1.75" fill="none"/>
<text transform="translate(40.33,2364.31) scale(1,1.028)" font-size="18.1" stroke="#fff" stroke-width="0.12">0</text>
<text transform="translate(34.99,2315.31) scale(1,1.028)" font-size="18.1" stroke="#fff" stroke-width="0.12">10</text>
<text transform="translate(35.22,2261.91) scale(1,1.028)" font-size="18.1" stroke="#fff" stroke-width="0.12">20</text>
<text transform="translate(35.31,2208.51) scale(1,1.028)" font-size="18.1" stroke="#fff" stroke-width="0.12">30</text>
<text transform="translate(35.49,2155.11) scale(1,1.028)" font-size="18.1" stroke="#fff" stroke-width="0.12">40</text>
<text transform="translate(72.53,2387.76) scale(1,1.028)" font-size="18.1" stroke="#fff" stroke-width="0.12">0</text>
<text transform="translate(133.72,2387.76) scale(1,1.028)" font-size="18.1" stroke="#fff" stroke-width="0.12">20</text>
<text transform="translate(205.99,2387.76) scale(1,1.028)" font-size="18.1" stroke="#fff" stroke-width="0.12">40</text>
<text transform="translate(277.72,2387.76) scale(1,1.028)" font-size="18.1" stroke="#fff" stroke-width="0.12">60</text>
<text transform="translate(349.76,2387.76) scale(1,1.028)" font-size="18.1" stroke="#fff" stroke-width="0.12">80</text>
<text transform="translate(416.47,2387.76) scale(1,1.028)" font-size="18.1" stroke="#fff" stroke-width="0.12">100</text>
<text transform="translate(222.93,2418.2) scale(0.9264,0.9493)" font-size="20" font-weight="normal" fill="#000" stroke="#fff" stroke-width="0.12">Time (h)</text>
<text transform="translate(19.5,2312.4) rotate(-90) translate(-1.32,0) scale(1.0146,0.9724)" font-size="20" stroke="#fff" stroke-width="0.12">pmol/ml of blood</text>
<path d="M572.2 2354.7L579.41 2339.9L586.61 2288L601.02 2167.2L629.84 2227.8L745.12 2278.6L918.04 2347.3L918.04 2362.2L572.2 2362.2Z" fill="#d5d4d5"/>
<path d="M572.2 2362.2L579.41 2346.7L586.61 2322.2L601.02 2304.2L629.84 2318.1L745.12 2344L918.04 2354.7L918.04 2362.2L572.2 2362.2Z" fill="#fff" stroke="#fff" stroke-width="1.5"/>
<path d="M572.2 2362.2L579.41 2346.7L586.61 2322.2L601.02 2304.2L629.84 2318.1L745.12 2344L918.04 2354.7" stroke="#fff" stroke-width="3.9000000000000004" fill="none" stroke-linejoin="round"/>
<path d="M586.61 2276.8V2282.5M582.11 2276.8H591.11M586.61 2300V2293.5M582.11 2300H591.11M601.02 2144.8V2161.7M596.52 2144.8H605.52M601.02 2189.6V2172.7M596.52 2189.6H605.52M629.84 2210.7V2222.3M625.34 2210.7H634.34M629.84 2244.8V2233.3M625.34 2244.8H634.34M745.12 2252.4V2273.1M740.62 2252.4H749.62M745.12 2304.8V2284.1M740.62 2304.8H749.62M918.04 2341.7V2341.8M913.54 2341.7H922.54M918.04 2353V2352.8M913.54 2353H922.54M601.02 2297.6V2304.2M596.52 2297.6H605.52M601.02 2310.1V2304.2M596.52 2310.1H605.52M629.84 2310.9V2318.1M625.34 2310.9H634.34M629.84 2325V2318.1M625.34 2325H634.34" stroke="#fff" stroke-width="3.7" fill="none" stroke-linecap="square"/>
<circle cx="572.2" cy="2362.2" r="6.5" fill="#fff"/>
<circle cx="579.41" cy="2346.7" r="6.5" fill="#fff"/>
<circle cx="586.61" cy="2322.2" r="6.5" fill="#fff"/>
<circle cx="601.02" cy="2304.2" r="6.5" fill="#fff"/>
<circle cx="629.84" cy="2318.1" r="6.5" fill="#fff"/>
<circle cx="745.12" cy="2344" r="6.5" fill="#fff"/>
<circle cx="918.04" cy="2354.7" r="6.5" fill="#fff"/>
<path d="M586.61 2276.8V2282.5M582.11 2276.8H591.11M586.61 2300V2293.5M582.11 2300H591.11M601.02 2144.8V2161.7M596.52 2144.8H605.52M601.02 2189.6V2172.7M596.52 2189.6H605.52M629.84 2210.7V2222.3M625.34 2210.7H634.34M629.84 2244.8V2233.3M625.34 2244.8H634.34M745.12 2252.4V2273.1M740.62 2252.4H749.62M745.12 2304.8V2284.1M740.62 2304.8H749.62M918.04 2341.7V2341.8M913.54 2341.7H922.54M918.04 2353V2352.8M913.54 2353H922.54" stroke="#000" stroke-width="1.7" fill="none"/>
<circle cx="572.2" cy="2354.7" r="4.65" fill="#fff" stroke="#000" stroke-width="1.7"/>
<circle cx="579.41" cy="2339.9" r="4.65" fill="#fff" stroke="#000" stroke-width="1.7"/>
<circle cx="586.61" cy="2288" r="4.65" fill="#fff" stroke="#000" stroke-width="1.7"/>
<circle cx="601.02" cy="2167.2" r="4.65" fill="#fff" stroke="#000" stroke-width="1.7"/>
<circle cx="629.84" cy="2227.8" r="4.65" fill="#fff" stroke="#000" stroke-width="1.7"/>
<circle cx="745.12" cy="2278.6" r="4.65" fill="#fff" stroke="#000" stroke-width="1.7"/>
<circle cx="918.04" cy="2347.3" r="4.65" fill="#fff" stroke="#000" stroke-width="1.7"/>
<path d="M601.02 2297.6V2304.2M596.52 2297.6H605.52M601.02 2310.1V2304.2M596.52 2310.1H605.52M629.84 2310.9V2318.1M625.34 2310.9H634.34M629.84 2325V2318.1M625.34 2325H634.34" stroke="#000" stroke-width="1.7" fill="none"/>
<circle cx="572.2" cy="2362.2" r="5.5"/>
<circle cx="579.41" cy="2346.7" r="5.5"/>
<circle cx="586.61" cy="2322.2" r="5.5"/>
<circle cx="601.02" cy="2304.2" r="5.5"/>
<circle cx="629.84" cy="2318.1" r="5.5"/>
<circle cx="745.12" cy="2344" r="5.5"/>
<circle cx="918.04" cy="2354.7" r="5.5"/>
<path d="M572.2 2354.7L579.41 2339.9L586.61 2288L601.02 2167.2L629.84 2227.8L745.12 2278.6L918.04 2347.3" stroke="#000" stroke-width="1.8" fill="none" stroke-dasharray="6.9 6.4"/>
<path d="M572.2 2362.2L579.41 2346.7L586.61 2322.2L601.02 2304.2L629.84 2318.1L745.12 2344L918.04 2354.7" stroke="#000" stroke-width="1.7" fill="none"/>
<path d="M584.33 2130.12L588.08 2130.76A1.06 1.06 0 0 0 588.08 2128.64L584.33 2129.28ZM583.71 2130.34L585.03 2133.91A1.06 1.06 0 0 0 586.87 2132.85L584.44 2129.92ZM583.21 2129.92L580.78 2132.85A1.06 1.06 0 0 0 582.62 2133.91L583.94 2130.34ZM583.33 2129.28L579.58 2128.64A1.06 1.06 0 0 0 579.58 2130.76L583.33 2130.12ZM583.94 2129.06L582.62 2125.49A1.06 1.06 0 0 0 580.78 2126.55L583.21 2129.48ZM584.44 2129.48L586.87 2126.55A1.06 1.06 0 0 0 585.03 2125.49L583.71 2129.06ZM584.68 2129.7A0.85 0.85 0 1 0 582.98 2129.7A0.85 0.85 0 1 0 584.68 2129.7ZM596.78 2130.12L600.53 2130.76A1.06 1.06 0 0 0 600.53 2128.64L596.78 2129.28ZM596.16 2130.34L597.48 2133.91A1.06 1.06 0 0 0 599.32 2132.85L596.89 2129.92ZM595.66 2129.92L593.23 2132.85A1.06 1.06 0 0 0 595.07 2133.91L596.39 2130.34ZM595.78 2129.28L592.03 2128.64A1.06 1.06 0 0 0 592.03 2130.76L595.78 2130.12ZM596.39 2129.06L595.07 2125.49A1.06 1.06 0 0 0 593.23 2126.55L595.66 2129.48ZM596.89 2129.48L599.32 2126.55A1.06 1.06 0 0 0 597.48 2125.49L596.16 2129.06ZM597.13 2129.7A0.85 0.85 0 1 0 595.43 2129.7A0.85 0.85 0 1 0 597.13 2129.7ZM609.23 2130.12L612.98 2130.76A1.06 1.06 0 0 0 612.98 2128.64L609.23 2129.28ZM608.61 2130.34L609.93 2133.91A1.06 1.06 0 0 0 611.77 2132.85L609.34 2129.92ZM608.11 2129.92L605.68 2132.85A1.06 1.06 0 0 0 607.52 2133.91L608.84 2130.34ZM608.23 2129.28L604.48 2128.64A1.06 1.06 0 0 0 604.48 2130.76L608.23 2130.12ZM608.84 2129.06L607.52 2125.49A1.06 1.06 0 0 0 605.68 2126.55L608.11 2129.48ZM609.34 2129.48L611.77 2126.55A1.06 1.06 0 0 0 609.93 2125.49L608.61 2129.06ZM609.58 2129.7A0.85 0.85 0 1 0 607.88 2129.7A0.85 0.85 0 1 0 609.58 2129.7ZM621.68 2130.12L625.43 2130.76A1.06 1.06 0 0 0 625.43 2128.64L621.68 2129.28ZM621.06 2130.34L622.38 2133.91A1.06 1.06 0 0 0 624.22 2132.85L621.79 2129.92ZM620.56 2129.92L618.13 2132.85A1.06 1.06 0 0 0 619.97 2133.91L621.29 2130.34ZM620.68 2129.28L616.93 2128.64A1.06 1.06 0 0 0 616.93 2130.76L620.68 2130.12ZM621.29 2129.06L619.97 2125.49A1.06 1.06 0 0 0 618.13 2126.55L620.56 2129.48ZM621.79 2129.48L624.22 2126.55A1.06 1.06 0 0 0 622.38 2125.49L621.06 2129.06ZM622.03 2129.7A0.85 0.85 0 1 0 620.33 2129.7A0.85 0.85 0 1 0 622.03 2129.7ZM623.05 2195.82L626.8 2196.46A1.06 1.06 0 0 0 626.8 2194.34L623.05 2194.98ZM622.44 2196.04L623.76 2199.61A1.06 1.06 0 0 0 625.59 2198.55L623.16 2195.62ZM621.94 2195.62L619.51 2198.55A1.06 1.06 0 0 0 621.34 2199.61L622.66 2196.04ZM622.05 2194.98L618.3 2194.34A1.06 1.06 0 0 0 618.3 2196.46L622.05 2195.82ZM622.66 2194.76L621.34 2191.19A1.06 1.06 0 0 0 619.51 2192.25L621.94 2195.18ZM623.16 2195.18L625.59 2192.25A1.06 1.06 0 0 0 623.76 2191.19L622.44 2194.76ZM623.4 2195.4A0.85 0.85 0 1 0 621.7 2195.4A0.85 0.85 0 1 0 623.4 2195.4ZM635.5 2195.82L639.25 2196.46A1.06 1.06 0 0 0 639.25 2194.34L635.5 2194.98ZM634.89 2196.04L636.21 2199.61A1.06 1.06 0 0 0 638.04 2198.55L635.61 2195.62ZM634.39 2195.62L631.96 2198.55A1.06 1.06 0 0 0 633.79 2199.61L635.11 2196.04ZM634.5 2194.98L630.75 2194.34A1.06 1.06 0 0 0 630.75 2196.46L634.5 2195.82ZM635.11 2194.76L633.79 2191.19A1.06 1.06 0 0 0 631.96 2192.25L634.39 2195.18ZM635.61 2195.18L638.04 2192.25A1.06 1.06 0 0 0 636.21 2191.19L634.89 2194.76ZM635.85 2195.4A0.85 0.85 0 1 0 634.15 2195.4A0.85 0.85 0 1 0 635.85 2195.4ZM647.95 2195.82L651.7 2196.46A1.06 1.06 0 0 0 651.7 2194.34L647.95 2194.98ZM647.34 2196.04L648.66 2199.61A1.06 1.06 0 0 0 650.49 2198.55L648.06 2195.62ZM646.84 2195.62L644.41 2198.55A1.06 1.06 0 0 0 646.24 2199.61L647.56 2196.04ZM646.95 2194.98L643.2 2194.34A1.06 1.06 0 0 0 643.2 2196.46L646.95 2195.82ZM647.56 2194.76L646.24 2191.19A1.06 1.06 0 0 0 644.41 2192.25L646.84 2195.18ZM648.06 2195.18L650.49 2192.25A1.06 1.06 0 0 0 648.66 2191.19L647.34 2194.76ZM648.3 2195.4A0.85 0.85 0 1 0 646.6 2195.4A0.85 0.85 0 1 0 648.3 2195.4ZM583.6 2261.22L587.35 2261.86A1.06 1.06 0 0 0 587.35 2259.74L583.6 2260.38ZM582.99 2261.44L584.31 2265.01A1.06 1.06 0 0 0 586.14 2263.95L583.71 2261.02ZM582.49 2261.02L580.06 2263.95A1.06 1.06 0 0 0 581.89 2265.01L583.21 2261.44ZM582.6 2260.38L578.85 2259.74A1.06 1.06 0 0 0 578.85 2261.86L582.6 2261.22ZM583.21 2260.16L581.89 2256.59A1.06 1.06 0 0 0 580.06 2257.65L582.49 2260.58ZM583.71 2260.58L586.14 2257.65A1.06 1.06 0 0 0 584.31 2256.59L582.99 2260.16ZM583.95 2260.8A0.85 0.85 0 1 0 582.25 2260.8A0.85 0.85 0 1 0 583.95 2260.8ZM746 2237.52L749.75 2238.16A1.06 1.06 0 0 0 749.75 2236.04L746 2236.68ZM745.39 2237.74L746.71 2241.31A1.06 1.06 0 0 0 748.54 2240.25L746.11 2237.32ZM744.89 2237.32L742.46 2240.25A1.06 1.06 0 0 0 744.29 2241.31L745.61 2237.74ZM745 2236.68L741.25 2236.04A1.06 1.06 0 0 0 741.25 2238.16L745 2237.52ZM745.61 2236.46L744.29 2232.89A1.06 1.06 0 0 0 742.46 2233.95L744.89 2236.88ZM746.11 2236.88L748.54 2233.95A1.06 1.06 0 0 0 746.71 2232.89L745.39 2236.46ZM746.35 2237.1A0.85 0.85 0 1 0 744.65 2237.1A0.85 0.85 0 1 0 746.35 2237.1Z" fill="#000"/>
<path d="M572.2 2121V2362.2H932.45M565.4 2362.2H572.2M565.4 2308.8H572.2M565.4 2255.4H572.2M565.4 2202H572.2M565.4 2148.6H572.2M572.2 2362.2V2369M644.25 2362.2V2369M716.3 2362.2V2369M788.35 2362.2V2369M860.4 2362.2V2369M932.45 2362.2V2369" stroke="#000" stroke-width="1.75" fill="none"/>
<text transform="translate(540.63,2365.11) scale(1,1.028)" font-size="18.1" stroke="#fff" stroke-width="0.12">0</text>
<text transform="translate(535.29,2315.31) scale(1,1.028)" font-size="18.1" stroke="#fff" stroke-width="0.12">10</text>
<text transform="translate(535.52,2261.91) scale(1,1.028)" font-size="18.1" stroke="#fff" stroke-width="0.12">20</text>
<text transform="translate(535.61,2208.51) scale(1,1.028)" font-size="18.1" stroke="#fff" stroke-width="0.12">30</text>
<text transform="translate(535.79,2155.11) scale(1,1.028)" font-size="18.1" stroke="#fff" stroke-width="0.12">40</text>
<text transform="translate(568.13,2387.36) scale(1,1.028)" font-size="18.1" stroke="#fff" stroke-width="0.12">0</text>
<text transform="translate(634.84,2387.36) scale(1,1.028)" font-size="18.1" stroke="#fff" stroke-width="0.12">10</text>
<text transform="translate(707.12,2387.36) scale(1,1.028)" font-size="18.1" stroke="#fff" stroke-width="0.12">20</text>
<text transform="translate(779.26,2387.36) scale(1,1.028)" font-size="18.1" stroke="#fff" stroke-width="0.12">30</text>
<text transform="translate(851.49,2387.36) scale(1,1.028)" font-size="18.1" stroke="#fff" stroke-width="0.12">40</text>
<text transform="translate(923.36,2387.36) scale(1,1.028)" font-size="18.1" stroke="#fff" stroke-width="0.12">50</text>
<text transform="translate(730.13,2417.3) scale(0.9264,0.9493)" font-size="20" font-weight="normal" fill="#000" stroke="#fff" stroke-width="0.12">Time (h)</text>
<text transform="translate(519.3,2312.4) rotate(-90) translate(-1.32,0) scale(1.0146,0.9724)" font-size="20" stroke="#fff" stroke-width="0.12">pmol/ml of blood</text>
</svg>
</body></html>
